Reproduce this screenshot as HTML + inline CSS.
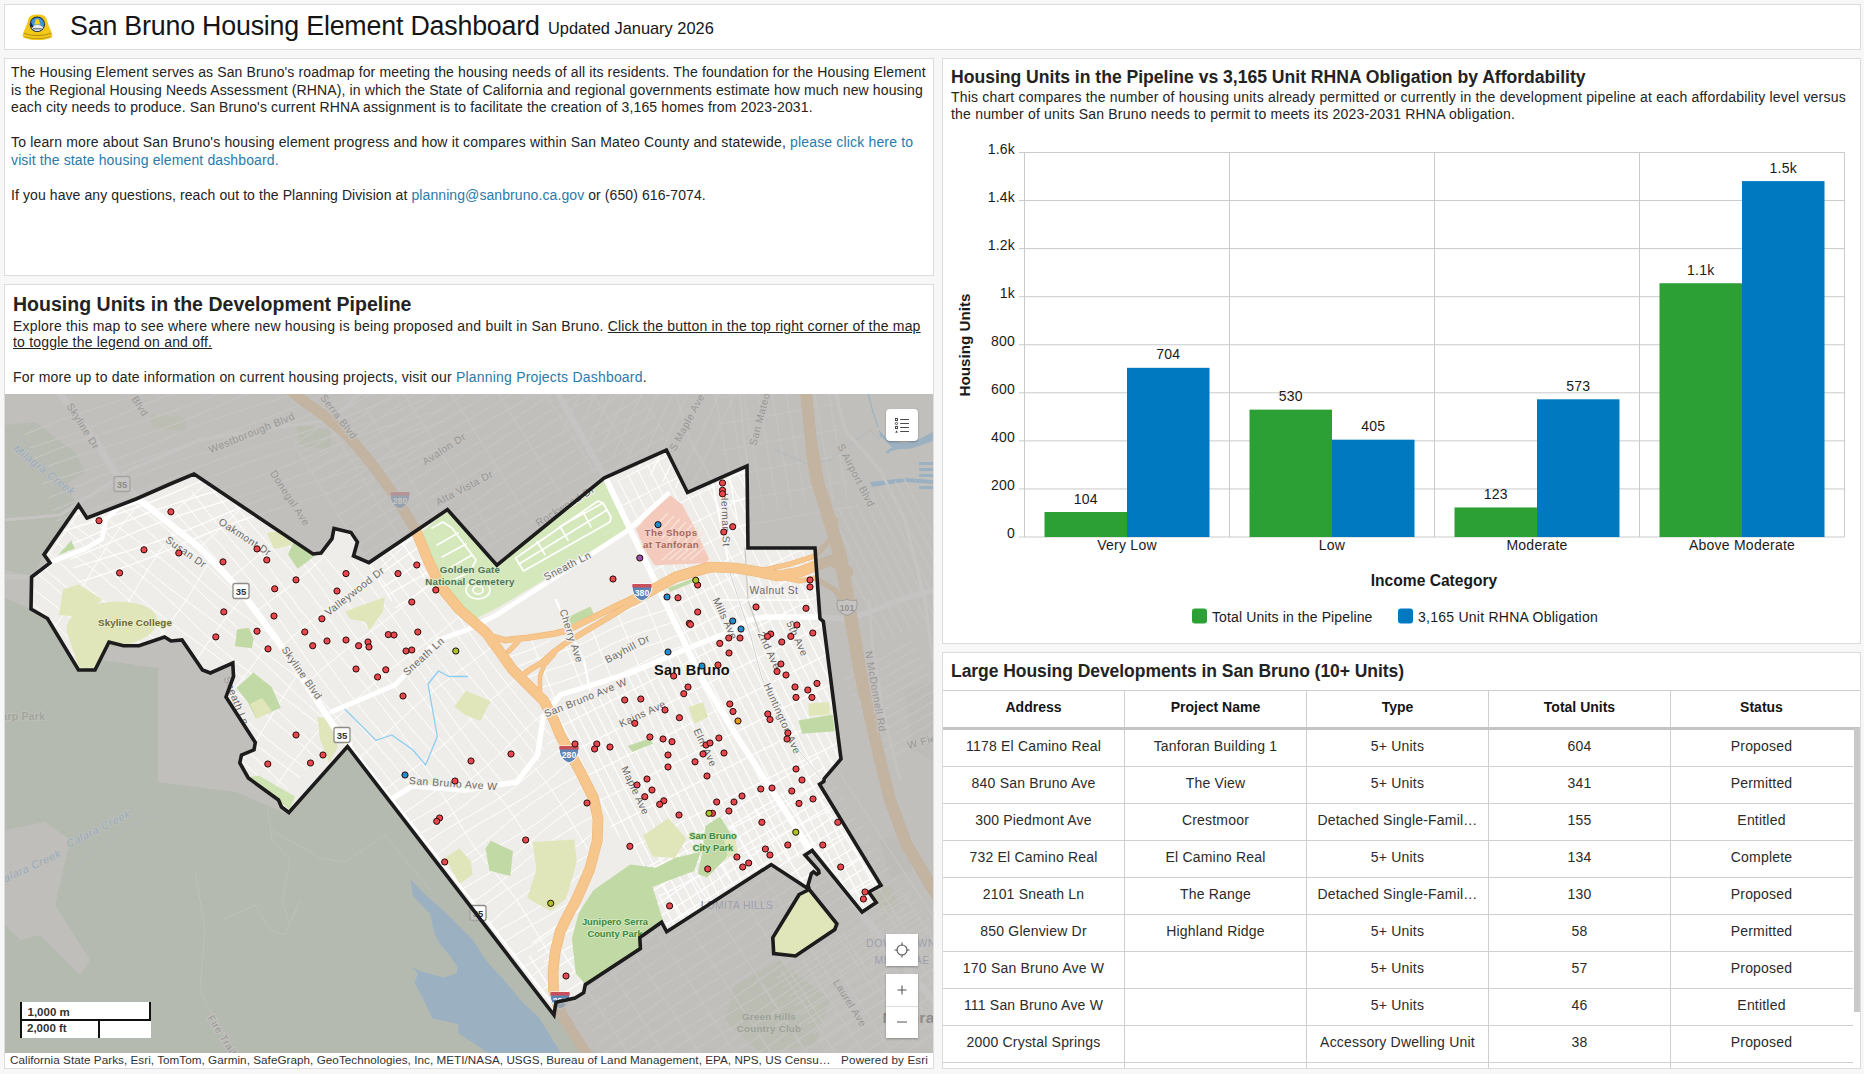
<!DOCTYPE html>
<html lang="en"><head><meta charset="utf-8"><title>San Bruno Housing Element Dashboard</title>
<style>
*{box-sizing:border-box}
html,body{margin:0;padding:0}
body{width:1864px;height:1074px;overflow:hidden;background:#f7f7f7;font-family:"Liberation Sans",sans-serif;color:#232323;position:relative}
.panel{position:absolute;background:#fff;border:1px solid #dcdcdc;overflow:hidden}
a{color:#2a7aab;text-decoration:none}
.t{position:absolute;white-space:nowrap;font-size:14px;line-height:17.5px}
#hdr{left:4px;top:4px;width:1857px;height:46px}
#hdr .title{position:absolute;left:65px;top:4px;font-size:26.8px;line-height:34px;letter-spacing:-.2px;white-space:nowrap;color:#151515}
#hdr .sub{font-size:16.4px;letter-spacing:0;margin-left:1px;position:relative;top:-.6px}
#txt{left:4px;top:58px;width:930px;height:218px}
#txt .t{left:6px;letter-spacing:.13px}
#mapp{left:4px;top:284px;width:930px;height:785px}
#mapp h2,#chp h2,#tbp h2{position:absolute;margin:0;font-weight:700;white-space:nowrap}
#mapp .t{left:8px;letter-spacing:.2px}
#chp{left:942px;top:58px;width:919px;height:586px}
#chp .t{left:8px;letter-spacing:.2px}
#tbp{left:942px;top:652px;width:919px;height:417px}
#map{position:absolute;left:0;top:109px;width:928px;height:659px;background:#bab9b7;overflow:hidden}
#attr{position:absolute;left:0;top:768px;width:928px;height:15px;background:#fff;font-size:11.7px;line-height:13.5px;color:#323232;white-space:nowrap}
#tb{position:absolute;left:0px;top:37px;width:917px;border-top:1px solid #cfcfcf}
.tr{display:flex;height:37px;width:910px;border-bottom:1px solid #cfcfcf}
.tr>div{width:182px;flex:none;border-right:1px solid #cfcfcf;text-align:center;font-size:14px;line-height:17px;padding-top:7.5px;letter-spacing:.2px;white-space:nowrap;color:#2b2b2b}
.tr>div:last-child{border-right:none;width:181px}
.tr.th{width:917px;height:39px;border-bottom:3px solid #c4c4c4}
.tr.th>div{font-weight:700;padding-top:8px;letter-spacing:0;color:#151515}
#sb{position:absolute;left:910.5px;top:74.5px;width:8px;height:284px;background:#c9c9c9}
.mbtn{position:absolute;width:32px;height:32px;background:#fff;box-shadow:0 1px 2px rgba(0,0,0,.3)}
.mbtn svg{display:block}
#scale{position:absolute;left:15px;top:608px;width:131px;height:36px;background:#fff;font-weight:700;font-size:11.5px;color:#323232;border-left:2px solid #111}
#scale .s1{position:absolute;left:0;top:0;width:129px;height:19px;border-right:2px solid #111;border-bottom:2px solid #111;padding:4px 0 0 5.5px;line-height:13px}
#scale .s2{position:absolute;left:0;top:19px;width:78px;height:17px;border-right:2px solid #111;padding:1px 0 0 5px;line-height:13px}
</style></head><body>
<div class="panel" id="hdr">
<svg style="position:absolute;left:17px;top:9px" width="31" height="27" viewBox="0 0 31 27">
<path d="M15.5 .6c-4.600 0-8.200 1.400-9.200 4.600-.9 3.100-2.100 7.200-4.100 11.200-1.100 2.100-1.700 4.600-1.300 6.800 2.900 1.600 8.400 2.900 14.600 2.900s11.700-1.300 14.600-2.900c.4-2.200-.2-4.700-1.300-6.800-2-4-3.200-8.100-4.100-11.200-1-3.200-4.600-4.600-9.200-4.600z" fill="#f2c81a"/>
<path d="M2 19.300c3.500 1.500 8.200 2.400 13.500 2.400s10-.9 13.500-2.400" fill="none" stroke="#b8940e" stroke-width="1.200"/>
<path d="M2.600 22.600c3.400 1.300 7.900 2 12.900 2s9.500-.7 12.900-2" fill="none" stroke="#b8940e" stroke-width=".9"/>
<circle cx="15.300" cy="10.300" r="7.700" fill="#1d2a44"/>
<circle cx="15.300" cy="10.300" r="6.700" fill="#3f93d6"/>
<path d="M9.300 13.200a6.700 6.700 0 0 0 12 0c-2-1.600-4-2.200-6-2.200s-4 .6-6 2.200z" fill="#e9ecee"/>
<path d="M11 14.200h8.600v1.200h-8.600z" fill="#5b6470"/>
<path d="M15.300 5c-1.500 0-2.100 1.300-2.200 3.100l-.9 2.300h6.200l-.9-2.300c-.1-1.800-.7-3.100-2.200-3.100z" fill="#f6d21f"/>
<path d="M9.200 8.200l2.400 5-2.300.2c-.8-1.500-.9-3.500-.1-5.200z" fill="#17233d"/>
</svg>
<div class="title">San Bruno Housing Element Dashboard <span class="sub">Updated January 2026</span></div>
</div>

<div class="panel" id="txt">
<div class="t" style="top:5px">The Housing Element serves as San Bruno's roadmap for meeting the housing needs of all its residents. The foundation for the Housing Element</div>
<div class="t" style="top:22.500px">is the Regional Housing Needs Assessment (RHNA), in which the State of California and regional governments estimate how much new housing</div>
<div class="t" style="top:40px">each city needs to produce. San Bruno's current RHNA assignment is to facilitate the creation of 3,165 homes from 2023-2031.</div>
<div class="t" style="top:75px;letter-spacing:.165px">To learn more about San Bruno's housing element progress and how it compares within San Mateo County and statewide, <a>please click here to</a></div>
<div class="t" style="top:92.500px"><a>visit the state housing element dashboard.</a></div>
<div class="t" style="top:127.500px;letter-spacing:.09px">If you have any questions, reach out to the Planning Division at <a>planning@sanbruno.ca.gov</a> or (650) 616-7074.</div>
</div>

<div class="panel" id="mapp">
<h2 style="left:8px;top:7px;font-size:19.5px;line-height:24px;letter-spacing:.02px">Housing Units in the Development Pipeline</h2>
<div class="t" style="top:32.500px">Explore this map to see where where new housing is being proposed and built in San Bruno. <u>Click the button in the top right corner of the map</u></div>
<div class="t" style="top:48.500px"><u>to toggle the legend on and off.</u></div>
<div class="t" style="top:83.500px">For more up to date information on current housing projects, visit our <a>Planning Projects Dashboard</a>.</div>
<div id="map"><svg width="928" height="659" viewBox="5 394 928 659" style="position:absolute;left:0;top:0" font-family="Liberation Sans, sans-serif">
<defs><clipPath id="g1"><polygon points="668.0,590.0 700.0,572.0 815.0,568.0 841.0,759.0 820.0,784.0 881.0,884.0 862.0,912.0 805.0,855.0 771.0,865.0 700.0,910.0 667.0,930.0 655.0,880.0 630.0,850.0 605.0,820.0 598.0,790.0 580.0,765.0 562.0,735.0 548.0,712.0 686.0,649.0"/></clipPath><clipPath id="g2"><polygon points="610.0,486.0 666.0,452.0 687.0,494.0 747.0,468.0 748.0,548.0 815.0,548.0 815.0,566.0 700.0,566.0 660.0,590.0 655.0,590.0"/></clipPath><clipPath id="g3"><polygon points="500.0,642.0 560.0,640.0 640.0,603.0 665.0,598.0 686.0,649.0 630.0,673.0 560.0,695.0 545.0,712.0 520.0,675.0"/></clipPath><clipPath id="g4"><polygon points="194.0,474.0 313.0,554.0 369.0,563.0 420.0,534.0 446.0,592.0 486.0,633.0 512.0,669.0 544.0,700.0 556.0,725.0 540.0,760.0 520.0,782.0 465.0,790.0 412.0,786.0 392.0,799.0 347.0,746.0 310.0,690.0 277.0,640.0 240.0,590.0 200.0,548.0 165.0,520.0 140.0,500.0"/></clipPath><clipPath id="g5"><polygon points="31.0,577.0 50.0,563.0 44.0,555.0 78.0,505.0 87.0,518.0 136.0,499.0 165.0,520.0 200.0,548.0 240.0,590.0 277.0,640.0 310.0,690.0 335.0,728.0 347.0,746.0 289.0,812.0 248.0,778.0 240.0,763.0 255.0,742.0 226.0,697.0 233.0,663.0 202.0,670.0 182.0,640.0 139.0,646.0 109.0,642.0 95.0,670.0 78.0,670.0 47.0,618.0 31.0,609.0"/></clipPath><clipPath id="g6"><polygon points="392.0,799.0 412.0,786.0 465.0,790.0 520.0,782.0 540.0,760.0 556.0,725.0 577.0,765.0 598.0,804.0 601.0,836.0 595.0,870.0 576.0,909.0 552.0,954.0 549.0,990.0 554.0,1012.0 483.0,916.0"/></clipPath></defs>
<rect x="5" y="394" width="928" height="659" fill="#efede9"/>
<polygon points="5.0,598.0 31.0,609.0 47.0,620.0 78.0,672.0 100.0,660.0 158.0,668.0 158.0,782.0 236.0,792.0 290.0,815.0 348.0,747.0 554.0,1015.0 595.0,1053.0 5.0,1053.0" fill="#c3dbbd" />
<polygon points="5.0,425.0 35.0,422.0 76.0,453.0 85.0,472.0 66.0,485.0 77.5,505.0 44.0,554.6 32.0,577.0 5.0,570.0" fill="#cbdfc6" />
<polygon points="150.0,414.0 187.0,418.0 185.0,431.0 152.0,428.0" fill="#e3e8c8" />
<polygon points="296.0,424.0 330.0,430.0 332.0,450.0 300.0,446.0" fill="#d7e6c4" />
<polygon points="410.7,879.6 417.0,886.0 428.0,897.0 443.0,910.0 454.5,921.5 473.0,940.0 486.0,960.6 506.7,983.0 521.6,1001.6 538.3,1016.5 547.7,1031.4 561.0,1053.0 488.0,1053.0 473.0,1042.6 458.2,1033.3 458.2,1024.0 432.2,1018.4 422.8,997.9 414.5,983.0 418.0,973.0 409.8,966.2 420.0,971.0 443.3,977.4 456.4,973.6 457.3,967.0 450.8,956.9 439.6,943.8 434.0,932.7 430.3,914.0 422.8,906.6 412.6,895.4" fill="#6abbfd" />
<polygon points="877.9,426.8 879.3,430.8 884.6,436.3 892.0,441.0 905.0,443.0 918.0,439.7 932.6,431.9 933.0,441.0 912.0,448.6 898.0,449.2 891.3,450.9 888.0,453.7 885.0,452.0 891.8,447.5 886.8,441.4 880.0,436.3 879.6,433.0" fill="#6abbfd" />
<polyline points="868.4,394.0 873.0,412.0 877.9,427.0" fill="none" stroke="#6abbfd" stroke-width="1.2" stroke-linejoin="round" stroke-linecap="round" />
<rect x="919" y="462" width="14" height="3" fill="#6abbfd"/>
<rect x="919" y="468" width="14" height="3" fill="#6abbfd"/>
<rect x="919" y="474" width="14" height="3" fill="#6abbfd"/>
<rect x="919" y="480" width="14" height="3" fill="#6abbfd"/>
<rect x="919" y="486" width="14" height="3" fill="#6abbfd"/>
<polygon points="870.0,482.0 905.0,478.0 933.0,480.0 933.0,484.0 905.0,482.0 872.0,487.0" fill="#6abbfd" />
<polygon points="735.0,985.0 780.0,960.0 830.0,1000.0 815.0,1045.0 760.0,1053.0 725.0,1020.0" fill="#dbe6c8" />
<polygon points="905.0,690.0 933.0,680.0 933.0,760.0 912.0,750.0" fill="#e2e0dc" />
<polygon points="880.0,840.0 905.0,835.0 912.0,870.0 890.0,878.0" fill="#e2e0dc" />
<polygon points="872.0,895.0 890.0,885.0 900.0,905.0 885.0,915.0" fill="#e0e4c4" />
<polyline points="25.1,434.4 43.6,426.8 62.3,419.6 81.1,412.9 100.2,406.7 119.3,400.8 138.5,395.0 157.5,388.9 176.4,382.3 195.1,375.1 213.6,367.5 232.0,359.6 250.5,351.8 269.1,344.4 287.8,337.5 306.8,331.1 325.9,325.2 345.1,319.4 364.2,313.4 383.1,307.0 401.9,300.1" fill="none" stroke="#ffffff" stroke-width="1.2" stroke-linejoin="round" stroke-linecap="round" />
<polyline points="30.0,447.8 49.1,441.8 68.1,435.5 86.9,428.6 105.4,421.2 123.9,413.4 142.3,405.5 160.8,397.9 179.5,390.7 198.4,384.1 217.4,378.0 236.6,372.1 255.7,366.3 274.8,360.1 293.6,353.4 312.3,346.2 330.8,338.6 349.2,330.7 367.7,322.9 386.3,315.6 405.0,308.7" fill="none" stroke="#ffffff" stroke-width="1.2" stroke-linejoin="round" stroke-linecap="round" />
<polyline points="33.9,458.6 52.5,451.0 71.2,444.0 90.1,437.5 109.2,431.5 128.3,425.6 147.5,419.7 166.5,413.4 185.3,406.6 203.9,399.3 222.4,391.6 240.8,383.7 259.3,376.0 277.9,368.8 296.8,362.0 315.8,355.8 334.9,349.9 354.1,344.1 373.1,338.0 392.0,331.5 410.7,324.3" fill="none" stroke="#ffffff" stroke-width="1.2" stroke-linejoin="round" stroke-linecap="round" />
<polyline points="38.1,470.1 56.8,463.0 75.8,456.5 94.8,450.5 114.0,444.7 133.1,438.8 152.1,432.5 170.9,425.7 189.6,418.4 208.0,410.6 226.5,402.8 244.9,395.1 263.6,387.8 282.4,381.1 301.4,374.9 320.6,369.0 339.7,363.2 358.8,357.1 377.7,350.5 396.4,343.4 414.9,335.8" fill="none" stroke="#ffffff" stroke-width="1.2" stroke-linejoin="round" stroke-linecap="round" />
<polyline points="43.0,483.4 62.1,477.6 81.2,471.6 100.2,465.3 119.0,458.4 137.6,451.0 156.0,443.2 174.5,435.3 193.0,427.7 211.6,420.5 230.5,413.9 249.6,407.8 268.7,401.9 287.9,396.1 306.9,389.9 325.8,383.2 344.4,376.0 362.9,368.4 381.3,360.5 399.8,352.8 418.4,345.4" fill="none" stroke="#ffffff" stroke-width="1.2" stroke-linejoin="round" stroke-linecap="round" />
<polyline points="48.3,498.0 66.9,490.6 85.3,482.8 103.7,475.0 122.2,467.3 140.9,460.1 159.8,453.5 178.8,447.3 198.0,441.5 217.1,435.6 236.2,429.5 255.0,422.8 273.7,415.6 292.2,408.0 310.6,400.1 329.1,392.4 347.7,385.0 366.4,378.1 385.4,371.7 404.5,365.8 423.7,360.0" fill="none" stroke="#ffffff" stroke-width="1.2" stroke-linejoin="round" stroke-linecap="round" />
<polyline points="52.7,510.3 71.4,503.0 89.9,495.3 108.3,487.5 126.8,479.7 145.4,472.4 164.2,465.6 183.2,459.3 202.3,453.4 221.5,447.5 240.5,441.5 259.5,435.0 278.2,428.0 296.7,420.5 315.2,412.7 333.6,404.8 352.2,397.3 370.9,390.2 389.8,383.7 408.9,377.7 428.0,371.9" fill="none" stroke="#ffffff" stroke-width="1.2" stroke-linejoin="round" stroke-linecap="round" />
<polyline points="56.5,520.5 75.6,514.7 94.7,508.6 113.6,502.0 132.3,494.8 150.8,487.2 169.2,479.4 187.6,471.6 206.2,464.1 225.0,457.2 243.9,450.8 263.0,444.9 282.2,439.0 301.3,433.1 320.3,426.7 339.1,419.8 357.6,412.3 376.1,404.6 394.5,396.7 413.0,389.1 431.7,381.9" fill="none" stroke="#ffffff" stroke-width="1.2" stroke-linejoin="round" stroke-linecap="round" />
<polyline points="60.6,531.8 79.7,525.9 98.9,520.1 117.9,514.0 136.8,507.4 155.5,500.2 174.0,492.6 192.4,484.7 210.9,477.0 229.5,469.5 248.2,462.6 267.2,456.2 286.3,450.2 305.5,444.4 324.6,438.4 343.5,432.1 362.3,425.2 380.9,417.7 399.3,409.9 417.8,402.1 436.3,394.5" fill="none" stroke="#ffffff" stroke-width="1.2" stroke-linejoin="round" stroke-linecap="round" />
<polyline points="65.9,546.5 84.4,538.8 102.8,530.9 121.3,523.2 139.9,515.9 158.7,509.1 177.7,502.8 196.9,496.9 216.0,491.1 235.1,485.0 254.0,478.5 272.7,471.5 291.3,463.9 309.7,456.1 328.2,448.3 346.7,440.8 365.4,433.7 384.3,427.3 403.4,421.2 422.6,415.4 441.7,409.5" fill="none" stroke="#ffffff" stroke-width="1.2" stroke-linejoin="round" stroke-linecap="round" />
<polyline points="70.5,559.0 89.1,551.6 107.5,543.8 125.9,536.0 144.5,528.3 163.1,521.2 182.0,514.6 201.1,508.5 220.2,502.6 239.4,496.7 258.4,490.6 277.3,483.9 295.9,476.7 314.4,469.0 332.8,461.1 351.3,453.4 369.9,446.0 388.7,439.2 407.7,432.9 426.8,426.9 446.0,421.1" fill="none" stroke="#ffffff" stroke-width="1.2" stroke-linejoin="round" stroke-linecap="round" />
<polyline points="73.7,567.8 92.8,561.7 111.9,555.9 131.1,550.0 150.1,543.8 168.9,537.1 187.6,529.9 206.1,522.3 224.5,514.4 243.0,506.6 261.6,499.3 280.4,492.4 299.4,486.1 318.5,480.2 337.6,474.4 356.7,468.4 375.7,461.9 394.4,454.9 413.0,447.4 431.4,439.6 449.8,431.8" fill="none" stroke="#ffffff" stroke-width="1.2" stroke-linejoin="round" stroke-linecap="round" />
<polyline points="78.8,582.0 98.0,576.1 117.0,569.8 135.8,563.0 154.4,555.7 172.9,548.0 191.3,540.1 209.8,532.4 228.4,525.1 247.2,518.4 266.3,512.2 285.4,506.3 304.6,500.4 323.6,494.4 342.5,487.8 361.2,480.7 379.8,473.1 398.2,465.3 416.6,457.5 435.2,450.0 453.9,443.0" fill="none" stroke="#ffffff" stroke-width="1.2" stroke-linejoin="round" stroke-linecap="round" />
<polyline points="294.2,444.6 307.5,435.6 320.6,426.5 333.8,417.4 347.0,408.4 360.5,399.7 374.2,391.4 388.1,383.4 402.1,375.6 416.0,367.8 429.9,359.8 443.5,351.4 456.9,342.6 470.1,333.5 483.2,324.4 496.4,315.3 509.8,306.5 523.4,298.0 537.2,289.9 551.1,282.1 565.1,274.3" fill="none" stroke="#ffffff" stroke-width="1.2" stroke-linejoin="round" stroke-linecap="round" />
<polyline points="300.0,453.8 313.9,445.9 327.7,437.8 341.3,429.3 354.6,420.5 367.8,411.4 380.9,402.2 394.2,393.2 407.6,384.5 421.2,376.1 435.0,368.1 449.0,360.2 463.0,352.4 476.9,344.4 490.6,336.1 504.0,327.4 517.2,318.4 530.4,309.3 543.5,300.1 556.9,291.3 570.4,282.7" fill="none" stroke="#ffffff" stroke-width="1.2" stroke-linejoin="round" stroke-linecap="round" />
<polyline points="306.0,463.5 320.0,455.7 333.9,447.8 347.7,439.6 361.2,431.0 374.4,422.1 387.6,412.9 400.8,403.8 414.0,394.8 427.5,386.1 441.2,377.9 455.1,369.9 469.1,362.1 483.0,354.3 496.9,346.2 510.5,337.8 523.8,329.0 537.0,319.9 550.2,310.8 563.4,301.7 576.8,292.9" fill="none" stroke="#ffffff" stroke-width="1.2" stroke-linejoin="round" stroke-linecap="round" />
<polyline points="311.8,472.7 325.3,464.2 339.1,456.1 353.0,448.2 367.0,440.4 381.0,432.5 394.7,424.3 408.2,415.7 421.5,406.8 434.7,397.7 447.8,388.5 461.1,379.5 474.5,370.9 488.2,362.6 502.1,354.6 516.1,346.8 530.1,339.0 543.9,330.9 557.5,322.5 570.9,313.8 584.1,304.7" fill="none" stroke="#ffffff" stroke-width="1.2" stroke-linejoin="round" stroke-linecap="round" />
<polyline points="318.7,483.9 331.9,474.8 345.3,465.9 358.8,457.4 372.6,449.3 386.5,441.4 400.5,433.6 414.5,425.7 428.2,417.5 441.7,408.9 455.0,400.0 468.2,390.9 481.3,381.7 494.6,372.8 508.0,364.1 521.7,355.8 535.6,347.9 549.6,340.1 563.6,332.2 577.4,324.2 591.0,315.8" fill="none" stroke="#ffffff" stroke-width="1.2" stroke-linejoin="round" stroke-linecap="round" />
<polyline points="326.0,495.5 339.5,487.0 352.8,478.1 366.0,468.9 379.2,459.8 392.4,450.8 405.9,442.1 419.5,433.8 433.4,425.8 447.4,418.0 461.4,410.2 475.2,402.2 488.8,393.8 502.2,385.0 515.4,376.0 528.6,366.8 541.8,357.7 555.1,348.9 568.7,340.4 582.5,332.3 596.5,324.5" fill="none" stroke="#ffffff" stroke-width="1.2" stroke-linejoin="round" stroke-linecap="round" />
<polyline points="332.3,505.5 346.0,497.2 359.4,488.6 372.7,479.6 385.8,470.4 399.0,461.3 412.3,452.4 425.8,443.8 439.5,435.6 453.5,427.7 467.5,419.9 481.4,412.1 495.2,403.9 508.7,395.4 522.1,386.6 535.3,377.5 548.4,368.3 561.6,359.3 575.0,350.5 588.7,342.2 602.6,334.2" fill="none" stroke="#ffffff" stroke-width="1.2" stroke-linejoin="round" stroke-linecap="round" />
<polyline points="338.2,515.0 352.1,507.1 365.9,498.9 379.4,490.4 392.7,481.5 405.9,472.4 419.0,463.2 432.3,454.2 445.7,445.5 459.4,437.2 473.3,429.2 487.2,421.4 501.2,413.6 515.1,405.5 528.7,397.2 542.1,388.4 555.3,379.4 568.5,370.2 581.6,361.1 595.0,352.3 608.6,343.8" fill="none" stroke="#ffffff" stroke-width="1.2" stroke-linejoin="round" stroke-linecap="round" />
<polyline points="344.9,525.8 358.2,516.8 371.3,507.6 384.5,498.5 397.8,489.7 411.4,481.2 425.2,473.0 439.1,465.2 453.1,457.4 467.0,449.5 480.8,441.3 494.3,432.7 507.6,423.8 520.8,414.6 533.9,405.5 547.2,396.5 560.6,387.9 574.3,379.6 588.2,371.6 602.2,363.8 616.2,356.0" fill="none" stroke="#ffffff" stroke-width="1.2" stroke-linejoin="round" stroke-linecap="round" />
<polyline points="349.9,533.7 363.7,525.6 377.7,517.8 391.7,510.0 405.6,502.1 419.3,493.8 432.8,485.2 446.1,476.3 459.2,467.2 472.4,458.0 485.7,449.1 499.1,440.4 512.8,432.2 526.8,424.2 540.7,416.4 554.7,408.6 568.5,400.5 582.1,392.1 595.5,383.3 608.7,374.2 621.8,365.0" fill="none" stroke="#ffffff" stroke-width="1.2" stroke-linejoin="round" stroke-linecap="round" />
<polyline points="357.6,546.1 370.8,537.0 383.9,527.8 397.1,518.8 410.5,510.0 424.1,501.6 438.0,493.5 451.9,485.7 465.9,477.9 479.8,469.9 493.5,461.6 507.0,453.0 520.2,444.0 533.4,434.9 546.5,425.7 559.8,416.8 573.3,408.2 587.1,400.0 601.0,392.1 615.0,384.3 629.0,376.4" fill="none" stroke="#ffffff" stroke-width="1.2" stroke-linejoin="round" stroke-linecap="round" />
<polyline points="363.0,554.6 377.0,546.8 390.9,539.0 404.8,531.0 418.5,522.7 431.9,514.0 445.1,504.9 458.3,495.8 471.4,486.7 484.8,477.8 498.3,469.3 512.1,461.1 526.0,453.3 540.0,445.5 554.0,437.6 567.7,429.4 581.2,420.8 594.5,411.9 607.7,402.8 620.8,393.6 634.1,384.7" fill="none" stroke="#ffffff" stroke-width="1.2" stroke-linejoin="round" stroke-linecap="round" />
<polyline points="369.0,564.3 382.5,555.8 396.3,547.6 410.2,539.7 424.2,531.9 438.2,524.0 451.9,515.9 465.5,507.3 478.8,498.4 492.0,489.3 505.1,480.2 518.3,471.2 531.8,462.5 545.5,454.2 559.3,446.2 573.3,438.4 587.3,430.5 601.1,422.5 614.8,414.1 628.2,405.4 641.4,396.4" fill="none" stroke="#ffffff" stroke-width="1.2" stroke-linejoin="round" stroke-linecap="round" />
<polyline points="376.6,576.4 389.7,567.3 402.9,558.1 416.1,549.1 429.6,540.5 443.3,532.2 457.2,524.3 471.2,516.5 485.1,508.6 499.0,500.6 512.6,492.1 526.0,483.3 539.2,474.3 552.3,465.1 565.5,456.0 578.9,447.2 592.5,438.8 606.3,430.7 620.2,422.9 634.2,415.1 648.1,407.2" fill="none" stroke="#ffffff" stroke-width="1.2" stroke-linejoin="round" stroke-linecap="round" />
<polyline points="383.2,587.1 396.6,578.2 409.8,569.1 422.9,560.0 436.1,550.9 449.5,542.2 463.2,533.8 477.0,525.8 491.0,518.0 505.0,510.2 518.8,502.2 532.5,493.9 546.0,485.2 559.2,476.2 572.3,467.0 585.5,457.9 598.8,449.0 612.4,440.5 626.1,432.3 640.1,424.4 654.1,416.6" fill="none" stroke="#ffffff" stroke-width="1.2" stroke-linejoin="round" stroke-linecap="round" />
<polyline points="388.1,594.8 401.9,586.8 415.9,579.0 429.9,571.2 443.8,563.2 457.5,554.9 470.9,546.2 484.2,537.2 497.3,528.1 510.5,519.0 523.8,510.1 537.3,501.5 551.0,493.3 565.0,485.4 579.0,477.6 592.9,469.7 606.7,461.6 620.2,453.1 633.6,444.2 646.8,435.1 659.9,426.0" fill="none" stroke="#ffffff" stroke-width="1.2" stroke-linejoin="round" stroke-linecap="round" />
<polyline points="395.9,607.4 409.5,599.0 422.9,590.2 436.1,581.1 449.3,572.0 462.5,562.9 475.8,554.1 489.4,545.6 503.2,537.6 517.2,529.7 531.2,521.9 545.1,514.0 558.8,505.7 572.3,497.1 585.5,488.1 598.7,479.0 611.9,469.9 625.1,460.9 638.6,452.3 652.4,444.1 666.3,436.2" fill="none" stroke="#ffffff" stroke-width="1.2" stroke-linejoin="round" stroke-linecap="round" />
<line x1="568.0" y1="278.9" x2="663.4" y2="431.5" stroke="#ffffff" stroke-width="1.2"/>
<line x1="534.1" y1="300.1" x2="629.5" y2="452.7" stroke="#ffffff" stroke-width="1.2"/>
<line x1="500.2" y1="321.3" x2="595.5" y2="473.9" stroke="#ffffff" stroke-width="1.2"/>
<line x1="466.2" y1="342.5" x2="561.6" y2="495.1" stroke="#ffffff" stroke-width="1.2"/>
<line x1="432.3" y1="363.7" x2="527.7" y2="516.3" stroke="#ffffff" stroke-width="1.2"/>
<line x1="398.4" y1="384.9" x2="493.8" y2="537.5" stroke="#ffffff" stroke-width="1.2"/>
<line x1="364.5" y1="406.1" x2="459.8" y2="558.7" stroke="#ffffff" stroke-width="1.2"/>
<line x1="330.5" y1="427.3" x2="425.9" y2="579.9" stroke="#ffffff" stroke-width="1.2"/>
<line x1="296.6" y1="448.5" x2="392.0" y2="601.1" stroke="#ffffff" stroke-width="1.2"/>
<line x1="561.2" y1="434.8" x2="611.9" y2="326.0" stroke="#ffffff" stroke-width="1.2"/>
<line x1="573.9" y1="440.7" x2="624.6" y2="332.0" stroke="#ffffff" stroke-width="1.2"/>
<line x1="586.6" y1="446.6" x2="637.3" y2="337.9" stroke="#ffffff" stroke-width="1.2"/>
<line x1="599.3" y1="452.5" x2="650.0" y2="343.8" stroke="#ffffff" stroke-width="1.2"/>
<line x1="612.0" y1="458.5" x2="662.7" y2="349.7" stroke="#ffffff" stroke-width="1.2"/>
<line x1="624.6" y1="464.4" x2="675.4" y2="355.6" stroke="#ffffff" stroke-width="1.2"/>
<line x1="637.3" y1="470.3" x2="688.0" y2="361.5" stroke="#ffffff" stroke-width="1.2"/>
<line x1="650.0" y1="476.2" x2="700.7" y2="367.5" stroke="#ffffff" stroke-width="1.2"/>
<line x1="662.7" y1="482.1" x2="713.4" y2="373.4" stroke="#ffffff" stroke-width="1.2"/>
<line x1="675.4" y1="488.0" x2="726.1" y2="379.3" stroke="#ffffff" stroke-width="1.2"/>
<line x1="688.1" y1="494.0" x2="738.8" y2="385.2" stroke="#ffffff" stroke-width="1.2"/>
<line x1="823.0" y1="361.3" x2="847.3" y2="499.2" stroke="#ffffff" stroke-width="1.2"/>
<line x1="809.2" y1="363.8" x2="833.5" y2="501.6" stroke="#ffffff" stroke-width="1.2"/>
<line x1="795.4" y1="366.2" x2="819.7" y2="504.1" stroke="#ffffff" stroke-width="1.2"/>
<line x1="781.6" y1="368.6" x2="805.9" y2="506.5" stroke="#ffffff" stroke-width="1.2"/>
<line x1="767.8" y1="371.1" x2="792.2" y2="508.9" stroke="#ffffff" stroke-width="1.2"/>
<line x1="754.1" y1="373.5" x2="778.4" y2="511.4" stroke="#ffffff" stroke-width="1.2"/>
<line x1="740.3" y1="375.9" x2="764.6" y2="513.8" stroke="#ffffff" stroke-width="1.2"/>
<line x1="726.5" y1="378.4" x2="750.8" y2="516.2" stroke="#ffffff" stroke-width="1.2"/>
<line x1="712.7" y1="380.8" x2="737.0" y2="518.7" stroke="#ffffff" stroke-width="1.2"/>
<line x1="707.4" y1="373.6" x2="825.5" y2="352.8" stroke="#ffffff" stroke-width="1.2"/>
<line x1="711.9" y1="399.2" x2="830.1" y2="378.4" stroke="#ffffff" stroke-width="1.2"/>
<line x1="716.4" y1="424.8" x2="834.6" y2="404.0" stroke="#ffffff" stroke-width="1.2"/>
<line x1="720.9" y1="450.4" x2="839.1" y2="429.6" stroke="#ffffff" stroke-width="1.2"/>
<line x1="725.4" y1="476.0" x2="843.6" y2="455.2" stroke="#ffffff" stroke-width="1.2"/>
<line x1="729.9" y1="501.6" x2="848.1" y2="480.8" stroke="#ffffff" stroke-width="1.2"/>
<line x1="734.5" y1="527.2" x2="852.6" y2="506.4" stroke="#ffffff" stroke-width="1.2"/>
<line x1="903.3" y1="477.2" x2="966.9" y2="601.9" stroke="#ffffff" stroke-width="1.2"/>
<line x1="895.3" y1="481.3" x2="958.9" y2="606.0" stroke="#ffffff" stroke-width="1.2"/>
<line x1="887.3" y1="485.4" x2="950.8" y2="610.1" stroke="#ffffff" stroke-width="1.2"/>
<line x1="879.3" y1="489.5" x2="942.8" y2="614.2" stroke="#ffffff" stroke-width="1.2"/>
<line x1="871.2" y1="493.5" x2="934.8" y2="618.3" stroke="#ffffff" stroke-width="1.2"/>
<line x1="863.2" y1="497.6" x2="926.8" y2="622.4" stroke="#ffffff" stroke-width="1.2"/>
<line x1="855.2" y1="501.7" x2="918.8" y2="626.5" stroke="#ffffff" stroke-width="1.2"/>
<line x1="847.2" y1="505.8" x2="910.7" y2="630.5" stroke="#ffffff" stroke-width="1.2"/>
<line x1="839.2" y1="509.9" x2="902.7" y2="634.6" stroke="#ffffff" stroke-width="1.2"/>
<line x1="831.1" y1="514.0" x2="894.7" y2="638.7" stroke="#ffffff" stroke-width="1.2"/>
<line x1="823.1" y1="518.1" x2="886.7" y2="642.8" stroke="#ffffff" stroke-width="1.2"/>
<line x1="842.9" y1="681.0" x2="912.1" y2="641.0" stroke="#ffffff" stroke-width="1.2"/>
<line x1="847.4" y1="688.8" x2="916.6" y2="648.8" stroke="#ffffff" stroke-width="1.2"/>
<line x1="851.9" y1="696.6" x2="921.1" y2="656.6" stroke="#ffffff" stroke-width="1.2"/>
<line x1="856.4" y1="704.4" x2="925.6" y2="664.4" stroke="#ffffff" stroke-width="1.2"/>
<line x1="860.9" y1="712.2" x2="930.1" y2="672.2" stroke="#ffffff" stroke-width="1.2"/>
<line x1="865.4" y1="720.0" x2="934.6" y2="680.0" stroke="#ffffff" stroke-width="1.2"/>
<line x1="869.9" y1="727.8" x2="939.1" y2="687.8" stroke="#ffffff" stroke-width="1.2"/>
<line x1="874.4" y1="735.6" x2="943.6" y2="695.6" stroke="#ffffff" stroke-width="1.2"/>
<line x1="878.9" y1="743.4" x2="948.1" y2="703.4" stroke="#ffffff" stroke-width="1.2"/>
<line x1="883.4" y1="751.2" x2="952.6" y2="711.2" stroke="#ffffff" stroke-width="1.2"/>
<line x1="887.9" y1="759.0" x2="957.1" y2="719.0" stroke="#ffffff" stroke-width="1.2"/>
<polyline points="532.6,942.8 546.6,933.1 560.5,923.3 574.4,913.6 588.5,904.0 602.7,894.7 617.1,885.7 631.7,876.9 646.3,868.1 660.9,859.4 675.3,850.3 689.5,841.0 703.6,831.5 717.5,821.7 731.4,811.9 745.4,802.2 759.5,792.8 773.9,783.7 788.4,774.8 803.0,766.1 817.6,757.3" fill="none" stroke="#ffffff" stroke-width="1.2" stroke-linejoin="round" stroke-linecap="round" />
<polyline points="538.1,951.2 552.2,941.7 566.6,932.6 581.1,923.8 595.7,915.0 610.3,906.3 624.7,897.4 639.1,888.2 653.2,878.7 667.1,869.0 681.0,859.2 695.0,849.5 709.1,839.9 723.3,830.7 737.8,821.7 752.4,813.0 767.0,804.2 781.5,795.4 795.9,786.4 810.1,777.0 824.1,767.4" fill="none" stroke="#ffffff" stroke-width="1.2" stroke-linejoin="round" stroke-linecap="round" />
<polyline points="544.9,961.7 559.5,953.0 574.1,944.2 588.5,935.3 602.8,926.0 616.9,916.5 630.8,906.7 644.7,896.9 658.7,887.2 672.8,877.8 687.1,868.6 701.6,859.6 716.2,850.9 730.8,842.2 745.3,833.3 759.7,824.2 773.8,814.8 787.8,805.1 801.7,795.3 815.6,785.6 829.7,776.0" fill="none" stroke="#ffffff" stroke-width="1.2" stroke-linejoin="round" stroke-linecap="round" />
<polyline points="551.0,971.2 565.3,961.9 579.8,953.0 594.3,944.2 609.0,935.5 623.5,926.7 637.9,917.6 652.1,908.2 666.1,898.6 680.0,888.8 693.9,879.0 707.9,869.4 722.1,860.0 736.5,851.0 751.0,842.1 765.6,833.4 780.2,824.6 794.7,815.7 808.9,806.5 823.0,796.9 837.0,787.2" fill="none" stroke="#ffffff" stroke-width="1.2" stroke-linejoin="round" stroke-linecap="round" />
<polyline points="558.6,982.8 572.6,973.1 586.5,963.3 600.4,953.6 614.6,944.2 628.9,935.0 643.4,926.2 658.0,917.4 672.6,908.7 687.1,899.8 701.4,890.6 715.6,881.2 729.5,871.5 743.4,861.6 757.4,851.9 771.4,842.4 785.7,833.1 800.1,824.1 814.7,815.3 829.3,806.6 843.9,797.8" fill="none" stroke="#ffffff" stroke-width="1.2" stroke-linejoin="round" stroke-linecap="round" />
<polyline points="564.8,992.3 579.3,983.5 593.8,974.6 608.2,965.5 622.3,956.0 636.3,946.4 650.2,936.6 664.1,926.8 678.2,917.2 692.4,908.0 706.9,899.0 721.4,890.2 736.0,881.5 750.6,872.7 765.0,863.6 779.2,854.3 793.2,844.7 807.2,834.9 821.1,825.1 835.1,815.5 849.2,806.1" fill="none" stroke="#ffffff" stroke-width="1.2" stroke-linejoin="round" stroke-linecap="round" />
<polyline points="571.9,1003.2 585.9,993.6 599.8,983.8 613.7,974.1 627.7,964.4 641.9,955.0 656.3,945.9 670.8,937.1 685.4,928.4 700.0,919.6 714.5,910.7 728.8,901.5 742.8,892.0 756.8,882.2 770.7,872.4 784.7,862.7 798.8,853.2 813.0,844.0 827.5,835.1 842.1,826.3 856.7,817.6" fill="none" stroke="#ffffff" stroke-width="1.2" stroke-linejoin="round" stroke-linecap="round" />
<polyline points="578.3,1013.2 592.7,1004.1 606.9,994.8 621.0,985.2 634.9,975.4 648.8,965.6 662.8,956.0 677.0,946.6 691.3,937.5 705.9,928.6 720.5,919.9 735.0,911.2 749.5,902.2 763.8,893.0 777.9,883.5 791.9,873.8 805.8,864.0 819.7,854.3 833.8,844.8 848.1,835.5 862.6,826.6" fill="none" stroke="#ffffff" stroke-width="1.2" stroke-linejoin="round" stroke-linecap="round" />
<polyline points="584.8,1023.1 598.7,1013.4 612.6,1003.6 626.6,993.9 640.7,984.4 655.0,975.3 669.5,966.4 684.1,957.6 698.7,948.9 713.2,940.0 727.6,930.9 741.7,921.4 755.7,911.8 769.6,902.0 783.6,892.2 797.6,882.6 811.8,873.3 826.3,864.3 840.8,855.5 855.4,846.8 870.0,838.0" fill="none" stroke="#ffffff" stroke-width="1.2" stroke-linejoin="round" stroke-linecap="round" />
<polyline points="590.7,1032.2 604.6,1022.5 618.8,1013.0 633.1,1003.8 647.5,994.9 662.1,986.2 676.7,977.4 691.3,968.6 705.6,959.5 719.8,950.1 733.8,940.4 747.7,930.6 761.6,920.8 775.6,911.2 789.8,901.9 804.3,892.9 818.8,884.1 833.4,875.4 848.0,866.6 862.4,857.6 876.7,848.3" fill="none" stroke="#ffffff" stroke-width="1.2" stroke-linejoin="round" stroke-linecap="round" />
<polyline points="598.0,1043.5 612.3,1034.3 626.5,1024.9 640.4,1015.2 654.3,1005.3 668.3,995.6 682.3,986.1 696.6,976.8 711.0,967.8 725.6,959.1 740.2,950.4 754.8,941.5 769.2,932.5 783.4,923.1 797.4,913.5 811.3,903.7 825.2,893.9 839.2,884.3 853.4,874.9 867.8,865.8 882.3,857.0" fill="none" stroke="#ffffff" stroke-width="1.2" stroke-linejoin="round" stroke-linecap="round" />
<polyline points="604.6,1053.6 618.7,1044.1 632.6,1034.3 646.5,1024.5 660.5,1014.8 674.6,1005.4 688.9,996.2 703.4,987.3 718.0,978.5 732.6,969.8 747.1,960.9 761.4,951.8 775.6,942.4 789.6,932.7 803.5,922.9 817.4,913.1 831.5,903.6 845.7,894.3 860.1,885.3 874.7,876.5 889.3,867.7" fill="none" stroke="#ffffff" stroke-width="1.2" stroke-linejoin="round" stroke-linecap="round" />
<polyline points="610.6,1062.9 624.5,1053.1 638.5,1043.4 652.6,1033.9 666.9,1024.8 681.4,1015.9 696.1,1007.2 710.6,998.4 725.1,989.5 739.5,980.4 753.6,970.9 767.6,961.2 781.5,951.4 795.4,941.7 809.5,932.1 823.7,922.9 838.2,913.9 852.7,905.1 867.3,896.4 881.9,887.6 896.3,878.5" fill="none" stroke="#ffffff" stroke-width="1.2" stroke-linejoin="round" stroke-linecap="round" />
<polyline points="616.5,1071.9 630.6,1062.5 645.0,1053.4 659.5,1044.6 674.1,1035.9 688.7,1027.1 703.2,1018.2 717.5,1009.0 731.6,999.4 745.5,989.7 759.4,979.9 773.4,970.2 787.5,960.7 801.8,951.5 816.2,942.5 830.8,933.8 845.4,925.1 860.0,916.2 874.3,907.1 888.5,897.7 902.5,888.1" fill="none" stroke="#ffffff" stroke-width="1.2" stroke-linejoin="round" stroke-linecap="round" />
<polyline points="624.2,1083.9 638.4,1074.4 652.4,1064.8 666.3,1055.0 680.2,1045.2 694.3,1035.6 708.5,1026.3 722.9,1017.3 737.4,1008.5 752.0,999.8 766.6,991.0 781.0,982.0 795.3,972.7 809.3,963.1 823.3,953.4 837.2,943.6 851.2,933.9 865.3,924.4 879.6,915.3 894.1,906.4 908.7,897.7" fill="none" stroke="#ffffff" stroke-width="1.2" stroke-linejoin="round" stroke-linecap="round" />
<polyline points="630.2,1093.1 644.1,1083.3 658.1,1073.6 672.2,1064.1 686.5,1055.0 701.0,1046.1 715.6,1037.3 730.2,1028.6 744.7,1019.7 759.1,1010.6 773.2,1001.1 787.2,991.5 801.1,981.7 815.0,971.9 829.1,962.3 843.3,953.0 857.7,944.0 872.3,935.2 886.9,926.5 901.5,917.7 915.9,908.7" fill="none" stroke="#ffffff" stroke-width="1.2" stroke-linejoin="round" stroke-linecap="round" />
<polyline points="636.5,1102.8 651.1,1094.1 665.7,1085.3 680.1,1076.2 694.3,1066.8 708.3,1057.2 722.2,1047.4 736.1,1037.6 750.1,1028.0 764.3,1018.6 778.7,1009.6 793.2,1000.7 807.8,992.0 822.4,983.3 836.9,974.3 851.1,965.1 865.2,955.5 879.2,945.8 893.1,936.0 907.0,926.3 921.1,916.8" fill="none" stroke="#ffffff" stroke-width="1.2" stroke-linejoin="round" stroke-linecap="round" />
<polyline points="643.4,1113.4 658.0,1104.6 672.3,1095.5 686.5,1086.2 700.6,1076.5 714.5,1066.8 728.4,1057.0 742.4,1047.3 756.6,1038.0 771.0,1028.9 785.5,1020.1 800.1,1011.3 814.7,1002.6 829.1,993.6 843.4,984.4 857.5,974.9 871.5,965.1 885.4,955.3 899.3,945.6 913.4,936.1 927.7,926.9" fill="none" stroke="#ffffff" stroke-width="1.2" stroke-linejoin="round" stroke-linecap="round" />
<polyline points="649.1,1122.1 663.4,1113.0 677.9,1104.1 692.5,1095.4 707.1,1086.7 721.6,1077.7 735.9,1068.5 750.0,1059.0 764.0,1049.3 777.9,1039.5 791.8,1029.8 805.9,1020.3 820.2,1011.0 834.6,1002.1 849.2,993.3 863.8,984.6 878.4,975.8 892.7,966.7 906.9,957.3 920.9,947.7 934.8,937.9" fill="none" stroke="#ffffff" stroke-width="1.2" stroke-linejoin="round" stroke-linecap="round" />
<polyline points="655.6,1132.2 670.0,1123.2 684.6,1114.4 699.2,1105.7 713.8,1096.9 728.2,1087.9 742.4,1078.5 756.4,1069.0 770.4,1059.2 784.3,1049.4 798.3,1039.7 812.4,1030.3 826.8,1021.2 841.3,1012.3 855.9,1003.6 870.5,994.9 885.0,985.9 899.3,976.8 913.4,967.3 927.3,957.6 941.3,947.8" fill="none" stroke="#ffffff" stroke-width="1.2" stroke-linejoin="round" stroke-linecap="round" />
<polyline points="662.2,1142.3 676.4,1133.0 690.8,1123.9 705.3,1115.1 719.9,1106.4 734.5,1097.6 749.0,1088.6 763.2,1079.4 777.3,1069.8 791.2,1060.1 805.1,1050.3 819.1,1040.6 833.2,1031.1 847.5,1022.0 862.0,1013.1 876.6,1004.3 891.2,995.6 905.7,986.7 920.1,977.6 934.2,968.1 948.2,958.5" fill="none" stroke="#ffffff" stroke-width="1.2" stroke-linejoin="round" stroke-linecap="round" />
<line x1="831.1" y1="759.7" x2="950.9" y2="944.2" stroke="#ffffff" stroke-width="1.2"/>
<line x1="805.9" y1="776.1" x2="925.7" y2="960.6" stroke="#ffffff" stroke-width="1.2"/>
<line x1="780.7" y1="792.4" x2="900.6" y2="976.9" stroke="#ffffff" stroke-width="1.2"/>
<line x1="755.6" y1="808.7" x2="875.4" y2="993.2" stroke="#ffffff" stroke-width="1.2"/>
<line x1="730.4" y1="825.1" x2="850.2" y2="1009.6" stroke="#ffffff" stroke-width="1.2"/>
<line x1="705.2" y1="841.4" x2="825.1" y2="1025.9" stroke="#ffffff" stroke-width="1.2"/>
<line x1="680.1" y1="857.7" x2="799.9" y2="1042.3" stroke="#ffffff" stroke-width="1.2"/>
<line x1="654.9" y1="874.1" x2="774.8" y2="1058.6" stroke="#ffffff" stroke-width="1.2"/>
<line x1="629.8" y1="890.4" x2="749.6" y2="1074.9" stroke="#ffffff" stroke-width="1.2"/>
<line x1="604.6" y1="906.8" x2="724.4" y2="1091.3" stroke="#ffffff" stroke-width="1.2"/>
<line x1="579.4" y1="923.1" x2="699.3" y2="1107.6" stroke="#ffffff" stroke-width="1.2"/>
<line x1="554.3" y1="939.4" x2="674.1" y2="1123.9" stroke="#ffffff" stroke-width="1.2"/>
<line x1="529.1" y1="955.8" x2="648.9" y2="1140.3" stroke="#ffffff" stroke-width="1.2"/>
<line x1="777.0" y1="978.2" x2="911.1" y2="891.1" stroke="#ffffff" stroke-width="1.2"/>
<line x1="783.0" y1="987.4" x2="917.1" y2="900.3" stroke="#ffffff" stroke-width="1.2"/>
<line x1="788.9" y1="996.7" x2="923.1" y2="909.5" stroke="#ffffff" stroke-width="1.2"/>
<line x1="794.9" y1="1005.9" x2="929.1" y2="918.8" stroke="#ffffff" stroke-width="1.2"/>
<line x1="800.9" y1="1015.1" x2="935.1" y2="928.0" stroke="#ffffff" stroke-width="1.2"/>
<line x1="806.9" y1="1024.3" x2="941.1" y2="937.2" stroke="#ffffff" stroke-width="1.2"/>
<line x1="812.9" y1="1033.6" x2="947.1" y2="946.4" stroke="#ffffff" stroke-width="1.2"/>
<line x1="818.9" y1="1042.8" x2="953.1" y2="955.7" stroke="#ffffff" stroke-width="1.2"/>
<line x1="824.9" y1="1052.0" x2="959.1" y2="964.9" stroke="#ffffff" stroke-width="1.2"/>
<line x1="830.9" y1="1061.2" x2="965.1" y2="974.1" stroke="#ffffff" stroke-width="1.2"/>
<line x1="836.9" y1="1070.5" x2="971.1" y2="983.3" stroke="#ffffff" stroke-width="1.2"/>
<line x1="842.9" y1="1079.7" x2="977.0" y2="992.6" stroke="#ffffff" stroke-width="1.2"/>
<line x1="848.9" y1="1088.9" x2="983.0" y2="1001.8" stroke="#ffffff" stroke-width="1.2"/>
<line x1="922.4" y1="879.0" x2="998.6" y2="996.4" stroke="#ffffff" stroke-width="1.2"/>
<line x1="902.3" y1="892.1" x2="978.5" y2="1009.5" stroke="#ffffff" stroke-width="1.2"/>
<line x1="882.1" y1="905.2" x2="958.4" y2="1022.6" stroke="#ffffff" stroke-width="1.2"/>
<line x1="862.0" y1="918.2" x2="938.3" y2="1035.6" stroke="#ffffff" stroke-width="1.2"/>
<line x1="841.9" y1="931.3" x2="918.1" y2="1048.7" stroke="#ffffff" stroke-width="1.2"/>
<line x1="821.7" y1="944.4" x2="898.0" y2="1061.8" stroke="#ffffff" stroke-width="1.2"/>
<line x1="801.6" y1="957.4" x2="877.9" y2="1074.8" stroke="#ffffff" stroke-width="1.2"/>
<line x1="781.5" y1="970.5" x2="857.7" y2="1087.9" stroke="#ffffff" stroke-width="1.2"/>
<line x1="761.4" y1="983.6" x2="837.6" y2="1101.0" stroke="#ffffff" stroke-width="1.2"/>
<polyline points="195.0,870.0 205.0,930.0 200.0,990.0 215.0,1020.0 235.0,1053.0" fill="none" stroke="#e6eddc" stroke-width="1" stroke-linejoin="round" stroke-linecap="round" />
<polyline points="265.0,790.0 272.0,840.0 290.0,860.0 282.0,900.0 290.0,925.0" fill="none" stroke="#e6eddc" stroke-width="1" stroke-linejoin="round" stroke-linecap="round" />
<polyline points="222.0,920.0 255.0,905.0 270.0,930.0 285.0,935.0 300.0,900.0" fill="none" stroke="#e6eddc" stroke-width="1" stroke-linejoin="round" stroke-linecap="round" />
<polyline points="272.0,830.0 320.0,858.0 345.0,862.0 385.0,835.0 430.0,890.0" fill="none" stroke="#e6eddc" stroke-width="1" stroke-linejoin="round" stroke-linecap="round" />
<polyline points="5.0,910.0 60.0,880.0 125.0,828.0 150.0,815.0" fill="none" stroke="#b9d6e8" stroke-width="1" stroke-linejoin="round" stroke-linecap="round" />
<polyline points="14.0,430.0 50.0,470.0 68.0,520.0" fill="none" stroke="#b9d6e8" stroke-width="1" stroke-linejoin="round" stroke-linecap="round" />
<polyline points="775.0,450.0 810.0,465.0 830.0,460.0 870.0,430.0 880.0,440.0" fill="none" stroke="#b9d6e8" stroke-width="1" stroke-linejoin="round" stroke-linecap="round" />
<polygon points="5.0,830.0 45.0,822.0 70.0,840.0 55.0,905.0 90.0,960.0 80.0,975.0 40.0,935.0 20.0,940.0 5.0,925.0" fill="#ebe9e4" />
<g clip-path="url(#g1)"><line x1="755.9" y1="475.4" x2="954.2" y2="868.2" stroke="#ffffff" stroke-width="1.1"/><line x1="747.9" y1="479.4" x2="946.3" y2="872.2" stroke="#ffffff" stroke-width="1.1"/><line x1="740.0" y1="483.4" x2="938.4" y2="876.2" stroke="#ffffff" stroke-width="1.1"/><line x1="732.0" y1="487.5" x2="930.4" y2="880.2" stroke="#ffffff" stroke-width="1.1"/><line x1="724.1" y1="491.5" x2="922.5" y2="884.2" stroke="#ffffff" stroke-width="1.1"/><line x1="716.1" y1="495.5" x2="914.5" y2="888.2" stroke="#ffffff" stroke-width="1.1"/><line x1="708.2" y1="499.5" x2="906.6" y2="892.2" stroke="#ffffff" stroke-width="1.1"/><line x1="700.2" y1="503.5" x2="898.6" y2="896.2" stroke="#ffffff" stroke-width="1.1"/><line x1="692.3" y1="507.5" x2="890.7" y2="900.3" stroke="#ffffff" stroke-width="1.1"/><line x1="684.4" y1="511.5" x2="882.7" y2="904.3" stroke="#ffffff" stroke-width="1.1"/><line x1="676.4" y1="515.5" x2="874.8" y2="908.3" stroke="#ffffff" stroke-width="1.1"/><line x1="668.5" y1="519.6" x2="866.9" y2="912.3" stroke="#ffffff" stroke-width="1.1"/><line x1="660.5" y1="523.6" x2="858.9" y2="916.3" stroke="#ffffff" stroke-width="1.1"/><line x1="652.6" y1="527.6" x2="851.0" y2="920.3" stroke="#ffffff" stroke-width="1.1"/><line x1="644.6" y1="531.6" x2="843.0" y2="924.3" stroke="#ffffff" stroke-width="1.1"/><line x1="636.7" y1="535.6" x2="835.1" y2="928.3" stroke="#ffffff" stroke-width="1.1"/><line x1="628.8" y1="539.6" x2="827.1" y2="932.4" stroke="#ffffff" stroke-width="1.1"/><line x1="620.8" y1="543.6" x2="819.2" y2="936.4" stroke="#ffffff" stroke-width="1.1"/><line x1="612.9" y1="547.6" x2="811.2" y2="940.4" stroke="#ffffff" stroke-width="1.1"/><line x1="604.9" y1="551.7" x2="803.3" y2="944.4" stroke="#ffffff" stroke-width="1.1"/><line x1="597.0" y1="555.7" x2="795.4" y2="948.4" stroke="#ffffff" stroke-width="1.1"/><line x1="589.0" y1="559.7" x2="787.4" y2="952.4" stroke="#ffffff" stroke-width="1.1"/><line x1="581.1" y1="563.7" x2="779.5" y2="956.4" stroke="#ffffff" stroke-width="1.1"/><line x1="573.1" y1="567.7" x2="771.5" y2="960.4" stroke="#ffffff" stroke-width="1.1"/><line x1="565.2" y1="571.7" x2="763.6" y2="964.5" stroke="#ffffff" stroke-width="1.1"/><line x1="557.3" y1="575.7" x2="755.6" y2="968.5" stroke="#ffffff" stroke-width="1.1"/><line x1="549.3" y1="579.7" x2="747.7" y2="972.5" stroke="#ffffff" stroke-width="1.1"/><line x1="541.4" y1="583.8" x2="739.8" y2="976.5" stroke="#ffffff" stroke-width="1.1"/><line x1="533.4" y1="587.8" x2="731.8" y2="980.5" stroke="#ffffff" stroke-width="1.1"/><line x1="525.5" y1="591.8" x2="723.9" y2="984.5" stroke="#ffffff" stroke-width="1.1"/><line x1="517.5" y1="595.8" x2="715.9" y2="988.5" stroke="#ffffff" stroke-width="1.1"/><line x1="509.6" y1="599.8" x2="708.0" y2="992.5" stroke="#ffffff" stroke-width="1.1"/><line x1="501.6" y1="603.8" x2="700.0" y2="996.6" stroke="#ffffff" stroke-width="1.1"/><line x1="493.7" y1="607.8" x2="692.1" y2="1000.6" stroke="#ffffff" stroke-width="1.1"/><line x1="485.8" y1="611.8" x2="684.1" y2="1004.6" stroke="#ffffff" stroke-width="1.1"/><line x1="440.5" y1="630.2" x2="797.5" y2="449.9" stroke="#ffffff" stroke-width="1.1"/><line x1="453.1" y1="655.2" x2="810.1" y2="474.9" stroke="#ffffff" stroke-width="1.1"/><line x1="465.7" y1="680.2" x2="822.8" y2="499.9" stroke="#ffffff" stroke-width="1.1"/><line x1="478.4" y1="705.2" x2="835.4" y2="524.9" stroke="#ffffff" stroke-width="1.1"/><line x1="491.0" y1="730.2" x2="848.0" y2="549.9" stroke="#ffffff" stroke-width="1.1"/><line x1="503.6" y1="755.2" x2="860.6" y2="574.8" stroke="#ffffff" stroke-width="1.1"/><line x1="516.2" y1="780.2" x2="873.3" y2="599.8" stroke="#ffffff" stroke-width="1.1"/><line x1="528.9" y1="805.2" x2="885.9" y2="624.8" stroke="#ffffff" stroke-width="1.1"/><line x1="541.5" y1="830.2" x2="898.5" y2="649.8" stroke="#ffffff" stroke-width="1.1"/><line x1="554.1" y1="855.2" x2="911.1" y2="674.8" stroke="#ffffff" stroke-width="1.1"/><line x1="566.7" y1="880.2" x2="923.8" y2="699.8" stroke="#ffffff" stroke-width="1.1"/><line x1="579.4" y1="905.2" x2="936.4" y2="724.8" stroke="#ffffff" stroke-width="1.1"/><line x1="592.0" y1="930.1" x2="949.0" y2="749.8" stroke="#ffffff" stroke-width="1.1"/><line x1="604.6" y1="955.1" x2="961.6" y2="774.8" stroke="#ffffff" stroke-width="1.1"/><line x1="617.2" y1="980.1" x2="974.3" y2="799.8" stroke="#ffffff" stroke-width="1.1"/><line x1="629.9" y1="1005.1" x2="986.9" y2="824.8" stroke="#ffffff" stroke-width="1.1"/><line x1="642.5" y1="1030.1" x2="999.5" y2="849.8" stroke="#ffffff" stroke-width="1.1"/></g>
<g clip-path="url(#g2)"><line x1="738.0" y1="400.0" x2="819.1" y2="560.7" stroke="#ffffff" stroke-width="1"/><line x1="728.2" y1="404.9" x2="809.3" y2="565.6" stroke="#ffffff" stroke-width="1"/><line x1="718.3" y1="409.9" x2="799.5" y2="570.6" stroke="#ffffff" stroke-width="1"/><line x1="708.5" y1="414.9" x2="789.7" y2="575.5" stroke="#ffffff" stroke-width="1"/><line x1="698.7" y1="419.8" x2="779.9" y2="580.5" stroke="#ffffff" stroke-width="1"/><line x1="688.9" y1="424.8" x2="770.0" y2="585.5" stroke="#ffffff" stroke-width="1"/><line x1="679.1" y1="429.7" x2="760.2" y2="590.4" stroke="#ffffff" stroke-width="1"/><line x1="669.2" y1="434.7" x2="750.4" y2="595.4" stroke="#ffffff" stroke-width="1"/><line x1="659.4" y1="439.7" x2="740.6" y2="600.3" stroke="#ffffff" stroke-width="1"/><line x1="649.6" y1="444.6" x2="730.8" y2="605.3" stroke="#ffffff" stroke-width="1"/><line x1="639.8" y1="449.6" x2="720.9" y2="610.3" stroke="#ffffff" stroke-width="1"/><line x1="630.0" y1="454.5" x2="711.1" y2="615.2" stroke="#ffffff" stroke-width="1"/><line x1="620.1" y1="459.5" x2="701.3" y2="620.2" stroke="#ffffff" stroke-width="1"/><line x1="610.3" y1="464.5" x2="691.5" y2="625.1" stroke="#ffffff" stroke-width="1"/><line x1="600.5" y1="469.4" x2="681.7" y2="630.1" stroke="#ffffff" stroke-width="1"/><line x1="590.7" y1="474.4" x2="671.8" y2="635.1" stroke="#ffffff" stroke-width="1"/><line x1="580.9" y1="479.3" x2="662.0" y2="640.0" stroke="#ffffff" stroke-width="1"/><line x1="558.5" y1="483.9" x2="754.9" y2="384.7" stroke="#ffffff" stroke-width="1"/><line x1="569.4" y1="505.3" x2="765.7" y2="406.1" stroke="#ffffff" stroke-width="1"/><line x1="580.2" y1="526.8" x2="776.5" y2="427.6" stroke="#ffffff" stroke-width="1"/><line x1="591.0" y1="548.2" x2="787.4" y2="449.0" stroke="#ffffff" stroke-width="1"/><line x1="601.8" y1="569.6" x2="798.2" y2="470.4" stroke="#ffffff" stroke-width="1"/><line x1="612.6" y1="591.0" x2="809.0" y2="491.8" stroke="#ffffff" stroke-width="1"/><line x1="623.5" y1="612.4" x2="819.8" y2="513.2" stroke="#ffffff" stroke-width="1"/><line x1="634.3" y1="633.9" x2="830.6" y2="534.7" stroke="#ffffff" stroke-width="1"/><line x1="645.1" y1="655.3" x2="841.5" y2="556.1" stroke="#ffffff" stroke-width="1"/></g>
<g clip-path="url(#g3)"><polyline points="495.4,631.3 503.5,627.3 511.7,623.7 520.1,620.4 528.6,617.5 537.3,614.9 545.9,612.2 554.5,609.4 562.9,606.2 571.1,602.6 579.3,598.7 587.3,594.5 595.4,590.5 603.5,586.7 611.9,583.2 620.3,580.2 628.9,577.5 637.6,574.9 646.2,572.1 654.7,569.1 663.0,565.7" fill="none" stroke="#ffffff" stroke-width="1" stroke-linejoin="round" stroke-linecap="round" /><polyline points="500.3,643.6 508.6,640.0 517.0,636.8 525.6,634.0 534.2,631.4 542.9,628.7 551.4,625.8 559.8,622.6 568.0,618.9 576.1,614.9 584.1,610.8 592.2,606.7 600.4,603.0 608.8,599.6 617.3,596.7 625.9,594.0 634.5,591.3 643.1,588.6 651.6,585.5 659.9,582.0 668.0,578.1" fill="none" stroke="#ffffff" stroke-width="1" stroke-linejoin="round" stroke-linecap="round" /><polyline points="506.1,657.8 514.7,655.2 523.3,652.3 531.7,649.0 539.9,645.4 548.0,641.4 556.0,637.2 564.1,633.2 572.3,629.4 580.6,626.1 589.1,623.1 597.8,620.4 606.4,617.8 615.0,615.0 623.4,611.9 631.7,608.4 639.9,604.6 647.9,600.5 656.0,596.4 664.1,592.5 672.4,588.9" fill="none" stroke="#ffffff" stroke-width="1" stroke-linejoin="round" stroke-linecap="round" /><polyline points="511.1,670.1 519.2,666.2 527.4,662.6 535.9,659.4 544.4,656.6 553.1,653.9 561.7,651.3 570.2,648.4 578.6,645.1 586.9,641.5 594.9,637.5 603.0,633.4 611.1,629.3 619.2,625.6 627.6,622.2 636.1,619.2 644.7,616.5 653.4,613.9 662.0,611.1 670.4,608.1 678.7,604.6" fill="none" stroke="#ffffff" stroke-width="1" stroke-linejoin="round" stroke-linecap="round" /><polyline points="516.2,682.8 524.4,679.0 532.7,675.6 541.2,672.6 549.8,669.9 558.4,667.3 567.0,664.5 575.5,661.5 583.8,658.0 592.0,654.2 600.1,650.1 608.1,646.0 616.2,642.1 624.5,638.5 632.9,635.3 641.5,632.5 650.1,629.9 658.7,627.2 667.3,624.3 675.7,621.0 683.9,617.4" fill="none" stroke="#ffffff" stroke-width="1" stroke-linejoin="round" stroke-linecap="round" /><polyline points="521.3,695.4 529.6,691.9 538.1,688.9 546.7,686.1 555.3,683.5 563.9,680.8 572.4,677.8 580.7,674.4 588.9,670.6 597.0,666.6 605.0,662.5 613.1,658.5 621.4,654.9 629.8,651.6 638.3,648.8 647.0,646.1 655.6,643.5 664.2,640.6 672.6,637.4 680.8,633.8 688.9,629.8" fill="none" stroke="#ffffff" stroke-width="1" stroke-linejoin="round" stroke-linecap="round" /><polyline points="527.6,711.0 535.7,707.2 543.8,703.1 551.9,699.0 560.0,695.1 568.2,691.4 576.6,688.2 585.2,685.4 593.8,682.7 602.4,680.1 611.0,677.2 619.4,674.0 627.6,670.3 635.7,666.4 643.8,662.2 651.8,658.2 660.0,654.4 668.4,651.0 676.9,648.0 685.5,645.3 694.1,642.7" fill="none" stroke="#ffffff" stroke-width="1" stroke-linejoin="round" stroke-linecap="round" /><polyline points="531.9,721.7 540.1,718.0 548.4,714.6 556.9,711.6 565.5,708.9 574.2,706.2 582.8,703.5 591.3,700.4 599.6,697.0 607.7,693.1 615.8,689.0 623.8,684.9 631.9,681.0 640.2,677.4 648.6,674.3 657.2,671.5 665.9,668.8 674.5,666.2 683.0,663.3 691.4,660.0 699.6,656.3" fill="none" stroke="#ffffff" stroke-width="1" stroke-linejoin="round" stroke-linecap="round" /><polyline points="537.0,734.3 545.4,731.0 553.9,728.1 562.5,725.4 571.2,722.8 579.7,720.0 588.2,716.8 596.4,713.2 604.5,709.3 612.6,705.2 620.6,701.1 628.8,697.3 637.1,693.8 645.6,690.8 654.2,688.0 662.8,685.4 671.4,682.7 679.9,679.7 688.3,676.3 696.4,672.5 704.5,668.4" fill="none" stroke="#ffffff" stroke-width="1" stroke-linejoin="round" stroke-linecap="round" /><line x1="664.7" y1="569.9" x2="702.2" y2="662.6" stroke="#ffffff" stroke-width="1"/><line x1="636.9" y1="581.2" x2="674.4" y2="673.9" stroke="#ffffff" stroke-width="1"/><line x1="609.1" y1="592.4" x2="646.5" y2="685.1" stroke="#ffffff" stroke-width="1"/><line x1="581.3" y1="603.6" x2="618.7" y2="696.4" stroke="#ffffff" stroke-width="1"/><line x1="553.5" y1="614.9" x2="590.9" y2="707.6" stroke="#ffffff" stroke-width="1"/><line x1="525.6" y1="626.1" x2="563.1" y2="718.8" stroke="#ffffff" stroke-width="1"/><line x1="497.8" y1="637.4" x2="535.3" y2="730.1" stroke="#ffffff" stroke-width="1"/></g>
<g clip-path="url(#g4)"><polyline points="338.5,377.6 351.1,395.7 363.7,413.8 376.4,431.8 389.5,449.4 403.2,466.6 417.5,483.4 432.0,500.0 446.5,516.6 460.8,533.3 474.6,550.5 487.8,568.1 500.6,586.0 513.1,604.2 525.7,622.2 538.6,640.0 552.1,657.4 566.1,674.4 580.5,691.0 595.1,707.6 609.5,724.2" fill="none" stroke="#ffffff" stroke-width="1" stroke-linejoin="round" stroke-linecap="round" /><polyline points="325.2,388.0 338.7,405.3 352.9,422.2 367.4,438.8 381.9,455.4 396.3,472.1 410.2,489.1 423.5,506.6 436.3,524.5 448.9,542.6 461.4,560.8 474.3,578.6 487.6,596.1 501.6,613.2 515.9,629.9 530.5,646.4 545.0,663.0 559.1,679.9 572.6,697.2 585.7,715.0 598.3,733.0" fill="none" stroke="#ffffff" stroke-width="1" stroke-linejoin="round" stroke-linecap="round" /><polyline points="315.8,395.4 330.3,411.9 344.8,428.5 359.1,445.3 372.8,462.5 386.0,480.1 398.7,498.1 411.2,516.2 423.9,534.3 436.8,552.0 450.4,569.4 464.4,586.3 478.9,603.0 493.4,619.5 507.8,636.2 521.8,653.2 535.2,670.6 548.1,688.5 560.7,706.6 573.2,724.7 586.0,742.6" fill="none" stroke="#ffffff" stroke-width="1" stroke-linejoin="round" stroke-linecap="round" /><polyline points="304.7,404.0 318.2,421.4 332.4,438.2 346.8,454.9 361.4,471.4 375.8,488.1 389.7,505.2 403.0,522.6 415.9,540.5 428.4,558.6 441.0,576.7 453.8,594.6 467.2,612.1 481.1,629.2 495.4,645.9 510.0,662.4 524.4,679.0 538.6,695.9 552.2,713.2 565.2,730.9 577.8,749.0" fill="none" stroke="#ffffff" stroke-width="1" stroke-linejoin="round" stroke-linecap="round" /><polyline points="297.4,409.7 310.0,427.8 322.5,445.9 335.3,463.9 348.6,481.4 362.4,498.6 376.7,515.3 391.2,531.9 405.7,548.4 419.9,565.3 433.6,582.5 446.7,600.2 459.4,618.2 471.9,636.3 484.6,654.4 497.6,672.1 511.2,689.4 525.3,706.3 539.8,722.9 554.3,739.4 568.7,756.1" fill="none" stroke="#ffffff" stroke-width="1" stroke-linejoin="round" stroke-linecap="round" /><polyline points="287.9,417.2 300.9,434.9 313.6,452.9 326.1,471.1 338.8,489.1 351.9,506.8 365.5,524.0 379.7,540.8 394.2,557.4 408.8,574.0 423.1,590.7 436.9,607.8 450.2,625.4 463.0,643.3 475.5,661.4 488.1,679.5 501.0,697.4 514.4,714.8 528.4,731.8 542.8,748.5 557.4,765.0" fill="none" stroke="#ffffff" stroke-width="1" stroke-linejoin="round" stroke-linecap="round" /><polyline points="274.1,427.9 287.4,445.4 301.3,462.5 315.6,479.3 330.1,495.8 344.6,512.4 358.8,529.3 372.5,546.5 385.6,564.2 398.2,582.2 410.8,600.3 423.4,618.4 436.5,636.1 450.1,653.4 464.2,670.3 478.7,686.9 493.2,703.4 507.6,720.1 521.5,737.2 534.8,754.7 547.6,772.6" fill="none" stroke="#ffffff" stroke-width="1" stroke-linejoin="round" stroke-linecap="round" /><polyline points="264.8,435.2 277.5,453.2 290.7,470.8 304.5,487.9 318.7,504.7 333.3,521.3 347.8,537.9 362.0,554.7 375.8,571.8 389.0,589.5 401.7,607.4 414.2,625.6 426.8,643.6 439.8,661.4 453.3,678.8 467.4,695.7 481.8,712.3 496.4,728.9 510.8,745.5 524.7,762.6 538.2,780.0" fill="none" stroke="#ffffff" stroke-width="1" stroke-linejoin="round" stroke-linecap="round" /><polyline points="254.7,443.0 267.4,461.1 280.5,478.8 294.2,496.0 308.3,512.9 322.8,529.5 337.4,546.0 351.7,562.7 365.5,579.8 378.8,597.4 391.6,615.3 404.2,633.4 416.7,651.5 429.6,669.3 443.0,686.8 457.0,703.8 471.4,720.5 485.9,737.0 500.4,753.7 514.5,770.6 528.0,787.9" fill="none" stroke="#ffffff" stroke-width="1" stroke-linejoin="round" stroke-linecap="round" /><polyline points="246.9,449.2 260.2,466.7 273.0,484.6 285.5,502.7 298.1,520.8 311.0,538.7 324.4,556.1 338.4,573.1 352.8,589.8 367.4,606.3 381.8,623.0 395.9,639.9 409.4,657.3 422.4,675.0 435.0,693.1 447.5,711.2 460.2,729.2 473.4,746.8 487.2,764.0 501.4,780.8 515.9,797.4" fill="none" stroke="#ffffff" stroke-width="1" stroke-linejoin="round" stroke-linecap="round" /><polyline points="236.6,457.2 250.1,474.6 263.1,492.3 275.7,510.4 288.3,528.5 301.0,546.5 314.2,564.1 327.9,581.3 342.2,598.1 356.7,614.7 371.2,631.2 385.5,648.0 399.2,665.2 412.4,682.8 425.1,700.8 437.7,718.9 450.3,737.0 463.3,754.8 476.8,772.1 490.8,789.1 505.3,805.7" fill="none" stroke="#ffffff" stroke-width="1" stroke-linejoin="round" stroke-linecap="round" /><polyline points="222.7,468.1 236.7,485.1 251.1,501.8 265.6,518.3 280.1,534.9 294.1,551.9 307.6,569.3 320.6,587.0 333.2,605.1 345.7,623.2 358.5,641.2 371.7,658.8 385.4,676.0 399.7,692.8 414.2,709.3 428.7,725.9 443.0,742.7 456.7,759.9 469.9,777.5 482.6,795.5 495.1,813.6" fill="none" stroke="#ffffff" stroke-width="1" stroke-linejoin="round" stroke-linecap="round" /><polyline points="212.9,475.8 226.0,493.4 239.7,510.7 253.8,527.5 268.4,544.1 282.9,560.6 297.2,577.4 311.0,594.5 324.3,612.1 337.1,630.0 349.6,648.1 362.2,666.2 375.1,684.0 388.5,701.5 402.5,718.5 416.9,735.1 431.5,751.7 445.9,768.3 460.0,785.3 473.4,802.6 486.4,820.4" fill="none" stroke="#ffffff" stroke-width="1" stroke-linejoin="round" stroke-linecap="round" /><polyline points="205.4,481.6 219.5,498.5 232.9,515.9 245.9,533.7 258.5,551.8 271.0,569.9 283.8,587.9 297.0,605.5 310.8,622.6 325.0,639.4 339.6,656.0 354.1,672.5 368.3,689.3 382.0,706.5 395.2,724.2 407.9,742.2 420.4,760.3 433.1,778.4 446.1,796.1 459.6,813.5 473.7,830.4" fill="none" stroke="#ffffff" stroke-width="1" stroke-linejoin="round" stroke-linecap="round" /><polyline points="192.1,492.0 205.5,509.5 219.4,526.5 233.8,543.2 248.4,559.7 262.8,576.3 276.9,593.2 290.5,610.6 303.5,628.3 316.1,646.4 328.6,664.5 341.3,682.5 354.5,700.2 368.2,717.4 382.4,734.2 396.9,750.7 411.5,767.3 425.7,784.1 439.5,801.2 452.7,818.8 465.5,836.8" fill="none" stroke="#ffffff" stroke-width="1" stroke-linejoin="round" stroke-linecap="round" /><polyline points="181.8,500.0 196.0,516.9 210.4,533.5 225.0,550.0 239.3,566.8 253.2,583.9 266.5,601.4 279.3,619.3 291.9,637.4 304.4,655.5 317.3,673.4 330.7,690.8 344.6,707.8 359.0,724.5 373.6,741.1 388.0,757.7 402.1,774.6 415.7,791.9 428.7,809.7 441.3,827.8 453.8,845.9" fill="none" stroke="#ffffff" stroke-width="1" stroke-linejoin="round" stroke-linecap="round" /><polyline points="171.8,507.8 186.2,524.5 200.8,541.0 215.2,557.7 229.3,574.6 242.9,591.9 255.9,609.7 268.5,627.7 281.0,645.9 293.8,663.8 306.9,681.5 320.6,698.7 334.8,715.5 349.3,732.1 363.9,748.6 378.2,765.4 391.9,782.6 405.2,800.1 417.9,818.1 430.5,836.2 443.1,854.3" fill="none" stroke="#ffffff" stroke-width="1" stroke-linejoin="round" stroke-linecap="round" /><polyline points="161.5,515.9 174.7,533.5 188.5,550.6 202.8,567.4 217.3,584.0 231.8,600.5 246.1,617.3 259.8,634.5 273.0,652.2 285.7,670.2 298.2,688.3 310.8,706.3 323.8,724.1 337.3,741.5 351.4,758.4 365.9,775.0 380.4,791.5 394.8,808.2 408.8,825.2 422.2,842.7 435.1,860.5" fill="none" stroke="#ffffff" stroke-width="1" stroke-linejoin="round" stroke-linecap="round" /><polyline points="153.6,522.1 168.0,538.8 181.8,555.9 195.1,573.4 208.0,591.3 220.5,609.4 233.1,627.5 245.9,645.4 259.3,662.8 273.3,679.9 287.6,696.5 302.2,713.1 316.7,729.7 330.7,746.6 344.3,763.9 357.3,781.7 369.9,799.7 382.5,817.9 395.2,835.9 408.3,853.5 422.0,870.7" fill="none" stroke="#ffffff" stroke-width="1" stroke-linejoin="round" stroke-linecap="round" /><polyline points="143.1,530.3 157.5,546.9 171.5,563.9 185.0,581.3 197.9,599.1 210.5,617.2 223.1,635.3 235.8,653.3 249.1,670.8 262.9,688.0 277.1,704.7 291.7,721.3 306.2,737.9 320.4,754.7 334.1,771.9 347.2,789.6 359.9,807.6 372.5,825.7 385.1,843.7 398.1,861.5 411.7,878.8" fill="none" stroke="#ffffff" stroke-width="1" stroke-linejoin="round" stroke-linecap="round" /><polyline points="133.2,538.0 145.7,556.2 158.3,574.2 171.2,592.1 184.7,609.5 198.7,626.4 213.1,643.1 227.7,659.6 242.1,676.3 256.1,693.3 269.6,710.6 282.5,728.4 295.1,746.5 307.7,764.6 320.4,782.6 333.6,800.2 347.4,817.3 361.7,834.1 376.2,850.7 390.7,867.2 405.0,884.1" fill="none" stroke="#ffffff" stroke-width="1" stroke-linejoin="round" stroke-linecap="round" /><polyline points="123.4,545.7 137.5,562.6 151.0,579.9 164.0,597.7 176.6,615.7 189.2,633.9 201.9,651.9 215.0,669.5 228.8,686.7 243.0,703.5 257.5,720.1 272.0,736.6 286.3,753.4 300.1,770.6 313.3,788.2 326.0,806.1 338.6,824.2 351.2,842.3 364.1,860.1 377.6,877.5 391.6,894.5" fill="none" stroke="#ffffff" stroke-width="1" stroke-linejoin="round" stroke-linecap="round" /><polyline points="113.8,553.2 127.1,570.7 140.0,588.6 152.5,606.7 165.1,624.8 177.9,642.7 191.2,660.2 205.1,677.2 219.5,693.9 234.1,710.5 248.5,727.1 262.7,744.0 276.2,761.3 289.3,779.0 301.9,797.0 314.5,815.2 327.2,833.2 340.3,850.9 353.9,868.1 368.1,884.9 382.6,901.5" fill="none" stroke="#ffffff" stroke-width="1" stroke-linejoin="round" stroke-linecap="round" /><polyline points="95.3,573.4 107.1,562.6 119.3,552.2 131.8,542.3 144.7,532.7 157.6,523.3 170.5,513.7 183.1,503.8 195.3,493.5 207.2,482.7 218.8,471.7 230.3,460.6 242.0,449.6 254.1,439.1 266.5,429.0 279.2,419.3 292.1,409.8 305.1,400.3 317.8,390.6 330.2,380.4 342.2,369.8" fill="none" stroke="#ffffff" stroke-width="1" stroke-linejoin="round" stroke-linecap="round" /><polyline points="123.0,606.5 135.5,596.5 148.3,586.8 161.2,577.4 174.1,567.8 186.8,558.0 199.1,547.8 211.0,537.1 222.7,526.1 234.3,515.0 245.9,504.0 257.9,493.4 270.2,483.2 282.9,473.4 295.8,463.9 308.7,454.4 321.5,444.8 334.0,434.7 346.0,424.2 357.8,413.3 369.4,402.3" fill="none" stroke="#ffffff" stroke-width="1" stroke-linejoin="round" stroke-linecap="round" /><polyline points="152.1,641.2 163.8,630.2 175.8,619.6 188.2,609.5 200.9,599.8 213.9,590.3 226.8,580.8 239.5,571.1 251.9,561.0 263.9,550.4 275.6,539.5 287.2,528.4 298.8,517.3 310.7,506.6 322.9,496.3 335.5,486.4 348.4,476.8 361.3,467.4 374.2,457.8 386.7,447.8 398.9,437.5" fill="none" stroke="#ffffff" stroke-width="1" stroke-linejoin="round" stroke-linecap="round" /><polyline points="181.7,676.4 193.3,665.4 204.9,654.3 216.6,643.3 228.6,632.8 241.0,622.7 253.8,613.0 266.7,603.5 279.6,594.0 292.3,584.3 304.7,574.1 316.7,563.5 328.4,552.6 340.0,541.5 351.6,530.4 363.5,519.7 375.7,509.4 388.3,499.5 401.2,490.0 414.2,480.5 427.0,470.9" fill="none" stroke="#ffffff" stroke-width="1" stroke-linejoin="round" stroke-linecap="round" /><polyline points="209.8,709.9 222.5,700.2 234.9,690.1 247.0,679.6 258.7,668.7 270.3,657.6 281.9,646.5 293.8,635.7 305.9,625.4 318.5,615.4 331.3,605.8 344.3,596.4 357.2,586.8 369.7,576.9 382.0,566.6 393.8,555.8 405.4,544.8 417.0,533.7 428.7,522.8 440.7,512.2 453.2,502.1" fill="none" stroke="#ffffff" stroke-width="1" stroke-linejoin="round" stroke-linecap="round" /><polyline points="238.0,743.5 250.8,733.9 263.2,723.8 275.3,713.3 287.0,702.4 298.6,691.3 310.2,680.2 322.0,669.4 334.2,659.1 346.8,649.1 359.6,639.5 372.6,630.1 385.4,620.5 398.0,610.6 410.2,600.3 422.1,589.6 433.7,578.5 445.3,567.4 457.0,556.5 469.0,545.9 481.4,535.8" fill="none" stroke="#ffffff" stroke-width="1" stroke-linejoin="round" stroke-linecap="round" /><polyline points="265.1,775.9 278.1,766.4 291.0,756.9 303.7,747.1 316.0,736.9 328.0,726.3 339.6,715.3 351.2,704.2 362.8,693.2 374.8,682.5 387.1,672.3 399.7,662.4 412.6,652.9 425.6,643.5 438.4,633.8 450.8,623.8 463.0,613.4 474.7,602.5 486.3,591.4 497.9,580.3 509.7,569.5" fill="none" stroke="#ffffff" stroke-width="1" stroke-linejoin="round" stroke-linecap="round" /><polyline points="292.8,808.8 305.4,799.0 318.3,789.5 331.3,780.0 344.1,770.4 356.6,760.4 368.7,749.9 380.5,739.1 392.0,728.0 403.6,716.9 415.4,706.0 427.5,695.6 440.0,685.6 452.9,676.0 465.8,666.5 478.7,657.0 491.3,647.2 503.6,636.9 515.5,626.2 527.2,615.2 538.7,604.1" fill="none" stroke="#ffffff" stroke-width="1" stroke-linejoin="round" stroke-linecap="round" /><polyline points="322.9,844.7 334.4,833.6 346.0,822.5 357.9,811.7 370.0,801.3 382.6,791.4 395.4,781.8 408.4,772.3 421.2,762.8 433.8,752.9 446.1,742.6 457.9,731.8 469.6,720.8 481.1,709.7 492.8,698.7 504.8,688.2 517.2,678.1 530.0,668.3 542.9,658.9 555.8,649.4 568.6,639.6" fill="none" stroke="#ffffff" stroke-width="1" stroke-linejoin="round" stroke-linecap="round" /><polyline points="351.6,878.9 363.4,868.0 374.9,856.9 386.5,845.9 398.4,835.1 410.6,824.7 423.2,814.8 436.0,805.3 449.0,795.8 461.8,786.2 474.4,776.3 486.6,766.0 498.4,755.2 510.0,744.1 521.6,733.0 533.3,722.1 545.4,711.6 557.8,701.5 570.6,691.8 583.5,682.3 596.4,672.8" fill="none" stroke="#ffffff" stroke-width="1" stroke-linejoin="round" stroke-linecap="round" /><polyline points="379.6,912.3 391.2,901.2 402.8,890.1 414.5,879.2 426.6,868.7 439.0,858.7 451.8,849.0 464.8,839.5 477.7,830.0 490.3,820.2 502.7,810.0 514.6,799.4 526.3,788.4 537.9,777.3 549.5,766.3 561.4,755.6 573.7,745.4 586.4,735.6 599.3,726.0 612.2,716.6 625.0,706.9" fill="none" stroke="#ffffff" stroke-width="1" stroke-linejoin="round" stroke-linecap="round" /></g>
<g clip-path="url(#g5)"><polyline points="115.5,373.8 130.7,386.8 146.5,399.1 162.6,411.1 178.8,422.8 194.9,434.8 210.6,447.1 225.9,460.1 240.7,473.5 255.2,487.4 269.6,501.3 284.2,515.0 299.2,528.2 314.8,540.8 330.7,552.9 346.9,564.7 363.1,576.5 379.0,588.7 394.5,601.4 409.5,614.6 424.1,628.3" fill="none" stroke="#ffffff" stroke-width="1" stroke-linejoin="round" stroke-linecap="round" /><polyline points="110.0,380.3 124.6,394.1 139.0,408.0 153.5,421.8 168.4,435.2 183.7,448.1 199.5,460.4 215.6,472.3 231.9,484.0 247.9,496.0 263.6,508.5 278.8,521.5 293.5,535.1 307.9,549.0 322.4,562.9 337.1,576.5 352.2,589.6 367.8,602.1 383.8,614.1 400.0,625.9 416.2,637.8" fill="none" stroke="#ffffff" stroke-width="1" stroke-linejoin="round" stroke-linecap="round" /><polyline points="100.4,391.8 116.6,403.6 132.5,415.8 148.0,428.4 162.9,441.7 177.5,455.5 191.9,469.4 206.5,483.2 221.3,496.6 236.6,509.5 252.4,521.8 268.6,533.6 284.8,545.4 300.8,557.4 316.5,569.9 331.7,582.9 346.4,596.5 360.9,610.3 375.3,624.2 390.0,637.9 405.1,651.0" fill="none" stroke="#ffffff" stroke-width="1" stroke-linejoin="round" stroke-linecap="round" /><polyline points="92.7,401.0 107.1,414.9 121.6,428.8 136.4,442.3 151.6,455.2 167.4,467.5 183.5,479.5 199.7,491.2 215.8,503.2 231.5,515.6 246.8,528.5 261.5,542.0 276.0,555.9 290.4,569.8 305.1,583.5 320.1,596.6 335.7,609.2 351.7,621.3 367.9,633.1 384.0,644.9 399.9,657.1" fill="none" stroke="#ffffff" stroke-width="1" stroke-linejoin="round" stroke-linecap="round" /><polyline points="83.6,411.9 99.8,423.7 115.7,435.7 131.3,448.4 146.3,461.5 160.9,475.2 175.4,489.1 189.9,503.0 204.6,516.5 219.9,529.4 235.6,541.8 251.7,553.7 267.9,565.5 284.0,577.4 299.8,589.8 315.0,602.7 329.8,616.2 344.3,630.1 358.7,644.0 373.3,657.7 388.4,670.9" fill="none" stroke="#ffffff" stroke-width="1" stroke-linejoin="round" stroke-linecap="round" /><polyline points="74.9,422.2 89.4,436.0 104.3,449.4 119.7,462.2 135.5,474.4 151.7,486.3 167.9,498.1 183.9,510.1 199.5,522.6 214.7,535.7 229.3,549.3 243.8,563.2 258.2,577.1 273.0,590.6 288.1,603.7 303.8,616.2 319.8,628.2 336.0,639.9 352.2,651.8 368.0,664.1 383.3,676.9" fill="none" stroke="#ffffff" stroke-width="1" stroke-linejoin="round" stroke-linecap="round" /><polyline points="67.6,430.9 82.0,444.8 96.5,458.7 111.3,472.1 126.6,485.1 142.3,497.4 158.4,509.3 174.7,521.1 190.7,533.1 206.5,545.4 221.7,558.4 236.5,571.9 250.9,585.8 265.4,599.7 280.0,613.3 295.1,626.5 310.6,639.1 326.6,651.2 342.8,663.0 359.0,674.8 374.9,687.0" fill="none" stroke="#ffffff" stroke-width="1" stroke-linejoin="round" stroke-linecap="round" /><polyline points="57.4,443.1 72.3,456.4 87.6,469.3 103.5,481.5 119.6,493.4 135.8,505.2 151.9,517.2 167.5,529.7 182.6,542.7 197.3,556.3 211.8,570.2 226.2,584.1 240.9,597.7 256.1,610.8 271.7,623.2 287.8,635.2 304.0,647.0 320.1,658.9 335.9,671.2 351.3,684.0 366.2,697.4" fill="none" stroke="#ffffff" stroke-width="1" stroke-linejoin="round" stroke-linecap="round" /><polyline points="48.7,453.4 64.7,465.5 80.9,477.3 97.1,489.1 113.0,501.3 128.5,513.9 143.5,527.1 158.1,540.8 172.5,554.8 187.0,568.6 201.8,582.1 217.1,595.0 232.9,607.3 249.0,619.2 265.2,631.0 281.3,642.9 297.0,655.3 312.2,668.3 327.0,681.8 341.4,695.7 355.9,709.6" fill="none" stroke="#ffffff" stroke-width="1" stroke-linejoin="round" stroke-linecap="round" /><polyline points="41.9,461.5 56.4,475.4 71.0,489.0 86.2,502.1 101.8,514.6 117.8,526.7 134.0,538.5 150.1,550.3 166.0,562.5 181.4,575.3 196.3,588.7 210.8,602.4 225.3,616.4 239.8,630.2 254.7,643.5 270.1,656.3 286.0,668.5 302.1,680.3 318.3,692.1 334.4,704.2 349.9,716.7" fill="none" stroke="#ffffff" stroke-width="1" stroke-linejoin="round" stroke-linecap="round" /><polyline points="34.2,470.6 50.2,482.7 65.8,495.2 80.9,508.4 95.6,522.0 110.0,535.9 124.5,549.8 139.2,563.3 154.4,576.3 170.1,588.8 186.2,600.7 202.4,612.5 218.5,624.4 234.3,636.7 249.6,649.6 264.4,663.1 278.9,676.9 293.3,690.8 307.9,704.5 322.9,717.8 338.4,730.4" fill="none" stroke="#ffffff" stroke-width="1" stroke-linejoin="round" stroke-linecap="round" /><polyline points="24.5,482.2 39.1,495.9 54.1,509.2 69.6,521.8 85.5,534.0 101.7,545.8 117.9,557.6 133.9,569.7 149.4,582.3 164.4,595.6 179.0,609.3 193.4,623.2 207.9,637.0 222.7,650.5 238.0,663.4 253.8,675.7 269.9,687.7 286.1,699.4 302.2,711.4 317.9,723.8 333.1,736.8" fill="none" stroke="#ffffff" stroke-width="1" stroke-linejoin="round" stroke-linecap="round" /><polyline points="16.8,491.4 33.0,503.2 48.9,515.4 64.4,528.0 79.4,541.3 94.0,555.0 108.4,568.9 122.9,582.8 137.8,596.2 153.1,609.1 168.9,621.4 185.0,633.3 201.2,645.0 217.3,657.0 232.9,669.4 248.1,682.5 262.9,696.0 277.3,709.9 291.8,723.8 306.4,737.4 321.5,750.5" fill="none" stroke="#ffffff" stroke-width="1" stroke-linejoin="round" stroke-linecap="round" /><polyline points="6.9,503.3 22.1,516.2 37.9,528.6 54.0,540.5 70.2,552.3 86.3,564.2 102.0,576.6 117.2,589.5 132.0,603.0 146.5,616.9 160.9,630.8 175.6,644.5 190.6,657.7 206.2,670.3 222.1,682.3 238.3,694.1 254.5,706.0 270.4,718.1 285.9,730.8 300.8,744.1 315.4,757.8" fill="none" stroke="#ffffff" stroke-width="1" stroke-linejoin="round" stroke-linecap="round" /><polyline points="1.7,509.4 16.9,522.4 31.7,535.9 46.2,549.8 60.6,563.7 75.3,577.3 90.3,590.5 105.9,603.0 121.9,615.1 138.1,626.9 154.3,638.7 170.2,650.9 185.6,663.7 200.5,677.0 215.1,690.7 229.5,704.7 244.0,718.5 258.9,731.8 274.3,744.7 290.1,756.9 306.2,768.8" fill="none" stroke="#ffffff" stroke-width="1" stroke-linejoin="round" stroke-linecap="round" /><polyline points="-7.0,519.8 7.5,533.6 21.9,547.6 36.5,561.3 51.4,574.7 66.8,587.5 82.6,599.7 98.8,611.5 115.0,623.3 131.0,635.4 146.6,647.9 161.7,661.0 176.4,674.6 190.8,688.5 205.3,702.4 220.0,716.0 235.2,729.0 250.9,741.4 266.9,753.4 283.1,765.2 299.3,777.1" fill="none" stroke="#ffffff" stroke-width="1" stroke-linejoin="round" stroke-linecap="round" /><polyline points="-17.8,532.6 -1.6,544.5 14.6,556.3 30.6,568.3 46.3,580.7 61.5,593.8 76.2,607.3 90.7,621.2 105.1,635.1 119.8,648.7 134.9,661.8 150.5,674.3 166.5,686.4 182.7,698.1 198.9,710.0 214.8,722.2 230.1,735.0 245.0,748.4 259.6,762.2 274.0,776.1 288.5,789.9" fill="none" stroke="#ffffff" stroke-width="1" stroke-linejoin="round" stroke-linecap="round" /><polyline points="-26.6,543.2 -11.3,556.0 4.5,568.3 20.7,580.2 36.9,591.9 52.9,603.9 68.6,616.4 83.8,629.4 98.5,643.0 112.9,656.9 127.4,670.8 142.1,684.4 157.2,697.5 172.8,710.0 188.8,722.0 205.0,733.8 221.2,745.7 237.0,757.9 252.4,770.7 267.3,784.1 281.9,797.8" fill="none" stroke="#ffffff" stroke-width="1" stroke-linejoin="round" stroke-linecap="round" /><polyline points="-33.9,551.9 -17.7,563.7 -1.6,575.6 14.2,587.8 29.5,600.7 44.4,614.1 58.9,627.9 73.3,641.9 87.9,655.6 102.9,668.9 118.3,681.6 134.2,693.7 150.4,705.6 166.6,717.4 182.6,729.4 198.1,742.0 213.2,755.2 227.8,768.9 242.2,782.8 256.7,796.7 271.5,810.2" fill="none" stroke="#ffffff" stroke-width="1" stroke-linejoin="round" stroke-linecap="round" /><polyline points="-42.2,561.7 -27.6,575.5 -12.7,588.8 2.7,601.6 18.6,613.8 34.7,625.6 50.9,637.4 66.9,649.5 82.5,662.0 97.6,675.1 112.3,688.8 126.7,702.7 141.2,716.5 155.9,730.1 171.1,743.1 186.8,755.5 202.9,767.5 219.1,779.3 235.2,791.2 251.0,803.5 266.3,816.4" fill="none" stroke="#ffffff" stroke-width="1" stroke-linejoin="round" stroke-linecap="round" /><polyline points="-48.7,569.5 -34.1,583.2 -19.7,597.1 -5.2,611.0 9.6,624.4 24.9,637.3 40.7,649.7 56.8,661.6 73.0,673.4 89.1,685.3 104.8,697.7 120.0,710.7 134.8,724.2 149.3,738.1 163.7,752.0 178.3,765.6 193.4,778.8 209.0,791.4 225.0,803.4 241.2,815.2 257.3,827.1" fill="none" stroke="#ffffff" stroke-width="1" stroke-linejoin="round" stroke-linecap="round" /><polyline points="-60.1,583.1 -44.6,595.7 -28.6,607.8 -12.5,619.6 3.7,631.5 19.7,643.6 35.2,656.2 50.2,669.4 64.8,683.2 79.2,697.1 93.7,710.9 108.5,724.4 123.8,737.3 139.6,749.6 155.7,761.5 171.9,773.3 188.0,785.2 203.7,797.6 218.9,810.6 233.7,824.2 248.1,838.0" fill="none" stroke="#ffffff" stroke-width="1" stroke-linejoin="round" stroke-linecap="round" /><polyline points="-68.1,592.6 -52.0,604.5 -35.8,616.3 -19.6,628.2 -3.9,640.5 11.4,653.4 26.3,666.8 40.8,680.7 55.2,694.6 69.8,708.3 84.8,721.6 100.3,734.2 116.2,746.4 132.4,758.2 148.6,770.0 164.5,782.1 180.0,794.7 195.0,808.0 209.7,821.6 224.1,835.6 238.6,849.4" fill="none" stroke="#ffffff" stroke-width="1" stroke-linejoin="round" stroke-linecap="round" /><polyline points="-76.8,602.9 -61.4,615.7 -45.5,627.9 -29.3,639.8 -13.1,651.5 2.9,663.6 18.5,676.1 33.6,689.3 48.2,702.9 62.7,716.8 77.1,730.7 91.9,744.2 107.1,757.2 122.8,769.7 138.8,781.6 155.0,793.4 171.2,805.3 186.9,817.6 202.2,830.5 217.1,843.9 231.6,857.8" fill="none" stroke="#ffffff" stroke-width="1" stroke-linejoin="round" stroke-linecap="round" /><polyline points="-85.0,612.8 -69.8,625.8 -54.2,638.2 -38.1,650.2 -21.9,662.0 -5.7,673.9 10.1,686.2 25.4,699.0 40.2,712.4 54.7,726.3 69.1,740.2 83.7,753.9 98.7,767.2 114.2,779.9 130.1,792.0 146.3,803.8 162.5,815.7 178.4,827.7 194.0,840.4 209.0,853.6 223.6,867.2" fill="none" stroke="#ffffff" stroke-width="1" stroke-linejoin="round" stroke-linecap="round" /><polyline points="-67.8,636.6 -58.4,624.9 -48.9,613.2 -39.6,601.4 -30.7,589.3 -22.3,576.9 -14.3,564.2 -6.5,551.3 1.2,538.4 9.2,525.7 17.6,513.3 26.5,501.2 35.8,489.4 45.3,477.8 54.7,466.1 63.8,454.1 72.5,441.9 80.7,429.3 88.5,416.4 96.2,403.5 104.1,390.7" fill="none" stroke="#ffffff" stroke-width="1" stroke-linejoin="round" stroke-linecap="round" /><polyline points="-27.5,664.8 -19.4,652.2 -11.6,639.4 -3.8,626.5 4.0,613.7 12.3,601.1 21.1,589.0 30.2,577.1 39.7,565.4 49.2,553.7 58.4,541.9 67.2,529.7 75.5,517.2 83.4,504.5 91.2,491.6 99.0,478.7 107.0,466.0 115.6,453.7 124.6,441.7 134.0,430.0 143.5,418.3" fill="none" stroke="#ffffff" stroke-width="1" stroke-linejoin="round" stroke-linecap="round" /><polyline points="7.2,689.1 15.6,676.7 24.4,664.5 33.6,652.7 43.1,641.0 52.6,629.3 61.7,617.4 70.5,605.2 78.7,592.7 86.6,579.9 94.3,567.0 102.1,554.1 110.3,541.5 118.9,529.3 128.0,517.3 137.4,505.6 146.9,493.9 156.2,482.1 165.1,470.1 173.5,457.7 181.6,445.0" fill="none" stroke="#ffffff" stroke-width="1" stroke-linejoin="round" stroke-linecap="round" /><polyline points="45.8,716.1 53.6,703.3 61.9,690.8 70.6,678.6 79.8,666.7 89.2,655.0 98.7,643.3 107.9,631.5 116.7,619.3 125.1,606.9 133.0,594.1 140.8,581.2 148.5,568.4 156.6,555.7 165.1,543.3 174.1,531.3 183.5,519.6 193.0,507.9 202.3,496.1 211.4,484.1 219.9,471.8" fill="none" stroke="#ffffff" stroke-width="1" stroke-linejoin="round" stroke-linecap="round" /><polyline points="85.5,743.9 93.6,731.3 101.4,718.4 109.1,705.5 117.0,692.8 125.3,680.3 134.2,668.2 143.4,656.3 152.9,644.6 162.3,632.9 171.5,621.0 180.2,608.9 188.5,596.3 196.4,583.5 204.1,570.6 211.9,557.8 220.0,545.2 228.7,532.9 237.7,520.9 247.1,509.2 256.6,497.5" fill="none" stroke="#ffffff" stroke-width="1" stroke-linejoin="round" stroke-linecap="round" /><polyline points="120.2,768.2 129.4,756.4 138.8,744.7 148.3,733.0 157.5,721.1 166.3,709.0 174.6,696.5 182.5,683.7 190.2,670.8 198.0,657.9 206.1,645.3 214.7,633.0 223.7,621.0 233.1,609.2 242.6,597.6 251.9,585.8 260.9,573.8 269.4,561.4 277.5,548.8 285.3,535.9 293.0,523.0" fill="none" stroke="#ffffff" stroke-width="1" stroke-linejoin="round" stroke-linecap="round" /><polyline points="161.0,796.8 169.3,784.3 177.3,771.6 185.0,758.7 192.8,745.8 200.8,733.1 209.3,720.8 218.3,708.8 227.6,697.0 237.1,685.3 246.5,673.6 255.6,661.6 264.1,649.3 272.2,636.7 280.0,623.8 287.8,610.9 295.7,598.1 304.0,585.6 312.7,573.4 321.9,561.6 331.4,549.9" fill="none" stroke="#ffffff" stroke-width="1" stroke-linejoin="round" stroke-linecap="round" /><polyline points="195.4,820.9 204.2,808.7 213.4,796.9 222.8,785.2 232.3,773.5 241.5,761.6 250.3,749.4 258.5,736.9 266.4,724.2 274.2,711.2 282.0,698.4 290.1,685.8 298.7,673.5 307.7,661.5 317.1,649.8 326.6,638.1 335.9,626.3 344.9,614.3 353.4,601.9 361.4,589.2 369.2,576.4" fill="none" stroke="#ffffff" stroke-width="1" stroke-linejoin="round" stroke-linecap="round" /><polyline points="236.3,849.6 244.8,837.2 252.8,824.4 260.5,811.6 268.3,798.7 276.3,786.0 284.7,773.5 293.6,761.5 302.9,749.7 312.4,738.0 321.8,726.3 330.9,714.3 339.5,702.1 347.7,689.5 355.5,676.7 363.2,663.8 371.1,650.9 379.3,638.4 388.0,626.2 397.2,614.3 406.6,602.6" fill="none" stroke="#ffffff" stroke-width="1" stroke-linejoin="round" stroke-linecap="round" /></g>
<g clip-path="url(#g6)"><polyline points="320.8,868.2 331.6,859.1 342.6,850.5 354.0,842.4 365.9,834.9 378.1,827.9 390.4,821.1 402.5,814.0 414.3,806.4 425.7,798.2 436.6,789.5 447.3,780.4 458.0,771.2 468.9,762.3 480.1,754.0 491.8,746.3 503.9,739.1 516.2,732.2 528.4,725.3 540.4,718.0 551.9,710.1" fill="none" stroke="#ffffff" stroke-width="1" stroke-linejoin="round" stroke-linecap="round" /><polyline points="330.4,881.9 341.3,873.1 352.0,863.9 362.7,854.8 373.6,846.0 385.0,837.8 396.7,830.1 408.8,823.0 421.1,816.2 433.3,809.2 445.2,801.8 456.7,793.8 467.8,785.1 478.5,776.1 489.2,766.9 500.0,757.9 511.1,749.4 522.7,741.6 534.7,734.3 546.9,727.3 559.2,720.4" fill="none" stroke="#ffffff" stroke-width="1" stroke-linejoin="round" stroke-linecap="round" /><polyline points="338.1,892.9 348.9,883.9 359.5,874.7 370.4,865.7 381.5,857.3 393.1,849.4 405.1,842.1 417.4,835.2 429.6,828.3 441.7,821.1 453.3,813.3 464.5,804.9 475.4,796.0 486.0,786.8 496.8,777.7 507.8,769.0 519.2,760.9 531.0,753.4 543.2,746.4 555.5,739.5 567.6,732.5" fill="none" stroke="#ffffff" stroke-width="1" stroke-linejoin="round" stroke-linecap="round" /><polyline points="345.6,903.6 357.8,896.6 369.6,889.0 380.9,880.8 391.9,872.1 402.6,863.0 413.3,853.8 424.2,844.9 435.4,836.6 447.1,828.9 459.2,821.7 471.5,814.8 483.7,807.9 495.6,800.5 507.2,792.6 518.3,784.1 529.1,775.1 539.8,765.9 550.5,756.9 561.6,748.3 573.1,740.3" fill="none" stroke="#ffffff" stroke-width="1" stroke-linejoin="round" stroke-linecap="round" /><polyline points="352.3,913.1 364.5,906.1 376.7,899.2 388.8,892.1 400.6,884.4 411.8,876.1 422.7,867.3 433.4,858.2 444.1,849.0 455.1,840.2 466.4,832.0 478.2,824.4 490.3,817.3 502.6,810.4 514.8,803.4 526.7,796.0 538.1,788.0 549.2,779.4 559.9,770.3 570.6,761.1 581.4,752.2" fill="none" stroke="#ffffff" stroke-width="1" stroke-linejoin="round" stroke-linecap="round" /><polyline points="362.0,927.0 372.7,917.8 383.4,908.7 394.3,899.9 405.6,891.7 417.4,884.0 429.5,876.9 441.8,870.1 454.0,863.1 465.9,855.7 477.4,847.7 488.4,839.0 499.2,830.0 509.8,820.8 520.6,811.8 531.8,803.3 543.4,795.5 555.3,788.2 567.6,781.2 579.8,774.3 591.9,767.1" fill="none" stroke="#ffffff" stroke-width="1" stroke-linejoin="round" stroke-linecap="round" /><polyline points="369.0,937.0 381.3,930.1 393.4,923.0 405.1,915.4 416.5,907.2 427.4,898.4 438.1,889.3 448.8,880.1 459.7,871.3 471.0,863.0 482.7,855.3 494.8,848.2 507.1,841.3 519.3,834.3 531.2,826.9 542.7,819.0 553.8,810.4 564.6,801.4 575.3,792.2 586.0,783.2 597.2,774.7" fill="none" stroke="#ffffff" stroke-width="1" stroke-linejoin="round" stroke-linecap="round" /><polyline points="378.6,950.7 389.5,941.9 400.2,932.8 410.9,923.6 421.8,914.8 433.1,906.6 444.9,898.9 457.0,891.8 469.3,884.9 481.5,878.0 493.4,870.6 504.9,862.6 516.0,854.0 526.7,844.9 537.4,835.7 548.2,826.7 559.3,818.2 570.9,810.4 582.8,803.1 595.1,796.1 607.3,789.2" fill="none" stroke="#ffffff" stroke-width="1" stroke-linejoin="round" stroke-linecap="round" /><polyline points="385.3,960.3 396.0,951.1 406.9,942.3 418.2,934.1 430.0,926.5 442.1,919.4 454.4,912.5 466.6,905.5 478.5,898.1 490.0,890.1 501.0,881.5 511.8,872.4 522.5,863.3 533.3,854.3 544.4,845.8 556.0,837.9 567.9,830.6 580.2,823.6 592.4,816.7 604.5,809.6 616.2,801.8" fill="none" stroke="#ffffff" stroke-width="1" stroke-linejoin="round" stroke-linecap="round" /><polyline points="392.8,971.0 405.1,964.1 417.3,957.1 429.2,949.7 440.7,941.7 451.7,933.1 462.5,924.0 473.1,914.9 483.9,905.9 495.1,897.4 506.7,889.5 518.6,882.2 530.9,875.3 543.1,868.4 555.2,861.2 566.9,853.4 578.1,845.1 589.0,836.2 599.6,827.0 610.3,817.9 621.3,809.2" fill="none" stroke="#ffffff" stroke-width="1" stroke-linejoin="round" stroke-linecap="round" /><polyline points="399.9,981.1 411.5,973.3 423.5,966.1 435.8,959.1 448.0,952.2 460.0,945.0 471.7,937.2 482.9,928.7 493.7,919.8 504.4,910.6 515.1,901.5 526.1,892.9 537.5,884.8 549.4,877.3 561.6,870.3 573.9,863.5 586.0,856.4 597.8,848.8 609.2,840.7 620.1,831.9 630.9,822.8" fill="none" stroke="#ffffff" stroke-width="1" stroke-linejoin="round" stroke-linecap="round" /><polyline points="410.9,996.8 422.3,988.7 433.3,979.9 444.0,970.8 454.6,961.7 465.5,952.8 476.7,944.4 488.4,936.6 500.4,929.4 512.7,922.5 524.9,915.6 536.9,908.3 548.5,900.5 559.7,892.0 570.5,883.0 581.1,873.8 591.9,864.8 602.9,856.1 614.4,848.1 626.3,840.7 638.5,833.7" fill="none" stroke="#ffffff" stroke-width="1" stroke-linejoin="round" stroke-linecap="round" /><polyline points="418.1,1007.1 430.2,999.9 441.9,992.2 453.1,983.9 464.0,975.1 474.7,965.9 485.4,956.8 496.4,948.0 507.7,939.8 519.5,932.2 531.6,925.1 543.9,918.3 556.1,911.3 568.0,903.8 579.4,895.8 590.5,887.2 601.2,878.1 611.9,868.9 622.7,859.9 633.9,851.5 645.5,843.6" fill="none" stroke="#ffffff" stroke-width="1" stroke-linejoin="round" stroke-linecap="round" /><polyline points="426.8,1019.5 437.7,1010.7 448.4,1001.5 459.1,992.4 470.0,983.6 481.3,975.4 493.1,967.8 505.2,960.7 517.5,953.8 529.7,946.8 541.6,939.4 553.1,931.4 564.1,922.8 574.9,913.7 585.5,904.5 596.3,895.5 607.5,887.0 619.1,879.2 631.0,871.9 643.3,865.0 655.5,858.1" fill="none" stroke="#ffffff" stroke-width="1" stroke-linejoin="round" stroke-linecap="round" /><polyline points="434.6,1030.7 445.3,1021.6 456.0,1012.4 466.8,1003.4 477.9,994.9 489.4,987.0 501.4,979.6 513.6,972.7 525.9,965.8 538.0,958.6 549.7,950.9 560.9,942.6 571.8,933.8 582.5,924.6 593.2,915.5 604.2,906.7 615.5,898.5 627.3,891.0 639.4,883.9 651.7,877.0 663.9,870.0" fill="none" stroke="#ffffff" stroke-width="1" stroke-linejoin="round" stroke-linecap="round" /><polyline points="440.4,1039.0 452.5,1031.9 464.8,1025.0 477.0,1018.0 488.9,1010.5 500.3,1002.5 511.3,993.8 522.0,984.7 532.7,975.5 543.5,966.6 554.7,958.2 566.4,950.4 578.4,943.1 590.6,936.2 602.9,929.3 614.9,922.0 626.5,914.2 637.7,905.8 648.5,896.8 659.2,887.7 669.9,878.6" fill="none" stroke="#ffffff" stroke-width="1" stroke-linejoin="round" stroke-linecap="round" /><polyline points="450.1,1052.8 460.8,1043.7 471.5,1034.6 482.5,1025.9 494.0,1017.9 505.9,1010.4 518.0,1003.4 530.3,996.5 542.4,989.4 554.2,981.9 565.6,973.7 576.6,964.9 587.3,955.8 598.0,946.7 608.8,937.8 620.1,929.5 631.8,921.8 643.9,914.6 656.1,907.7 668.3,900.7 680.3,893.4" fill="none" stroke="#ffffff" stroke-width="1" stroke-linejoin="round" stroke-linecap="round" /><polyline points="543.3,703.2 551.0,712.4 558.8,721.6 566.3,731.0 573.4,740.7 580.0,750.7 586.2,761.1 592.2,771.5 598.2,781.9 604.6,792.1 611.4,802.0 618.7,811.5 626.4,820.8 634.2,830.0 641.8,839.3 649.1,848.9 655.9,858.8 662.2,869.0 668.3,879.4 674.3,889.8 680.5,900.1" fill="none" stroke="#ffffff" stroke-width="1" stroke-linejoin="round" stroke-linecap="round" /><polyline points="505.0,730.0 511.8,739.9 519.1,749.4 526.7,758.7 534.5,767.9 542.2,777.2 549.4,786.8 556.2,796.7 562.6,806.9 568.7,817.3 574.7,827.7 580.9,838.0 587.5,848.0 594.6,857.7 602.1,867.1 609.9,876.3 617.6,885.6 625.0,895.0 632.1,904.7 638.6,914.8 644.7,925.1" fill="none" stroke="#ffffff" stroke-width="1" stroke-linejoin="round" stroke-linecap="round" /><polyline points="467.3,756.4 474.2,766.2 481.5,775.7 489.2,785.0 497.0,794.2 504.6,803.5 511.8,813.2 518.5,823.1 524.8,833.3 530.8,843.8 536.8,854.2 543.1,864.5 549.8,874.4 557.0,884.0 564.6,893.4 572.3,902.6 580.0,911.9 587.4,921.3 594.3,931.1 600.8,941.3 606.9,951.6" fill="none" stroke="#ffffff" stroke-width="1" stroke-linejoin="round" stroke-linecap="round" /><polyline points="432.7,780.7 439.7,790.4 446.2,800.5 452.4,810.8 458.4,821.2 464.5,831.6 470.9,841.8 477.8,851.6 485.1,861.1 492.8,870.4 500.6,879.6 508.2,888.9 515.4,898.5 522.1,908.4 528.4,918.7 534.5,929.1 540.5,939.5 546.7,949.8 553.4,959.8 560.6,969.4 568.1,978.8" fill="none" stroke="#ffffff" stroke-width="1" stroke-linejoin="round" stroke-linecap="round" /><polyline points="392.2,809.0 399.8,818.3 407.6,827.5 415.3,836.8 422.6,846.3 429.5,856.1 435.9,866.3 442.0,876.7 448.0,887.1 454.1,897.5 460.7,907.5 467.7,917.3 475.2,926.7 482.9,935.9 490.7,945.1 498.2,954.5 505.3,964.2 511.9,974.2 518.1,984.6 524.1,995.0 530.1,1005.4" fill="none" stroke="#ffffff" stroke-width="1" stroke-linejoin="round" stroke-linecap="round" /><polyline points="357.4,833.4 364.3,843.2 370.7,853.3 376.9,863.7 382.8,874.1 389.0,884.5 395.5,894.6 402.5,904.3 409.9,913.8 417.6,923.0 425.4,932.3 432.9,941.6 440.0,951.3 446.7,961.3 452.9,971.6 458.9,982.0 465.0,992.4 471.3,1002.6 478.1,1012.5 485.3,1022.1 493.0,1031.4" fill="none" stroke="#ffffff" stroke-width="1" stroke-linejoin="round" stroke-linecap="round" /><polyline points="317.9,861.0 325.7,870.2 333.2,879.6 340.4,889.2 347.1,899.2 353.4,909.4 359.4,919.9 365.4,930.3 371.7,940.5 378.4,950.5 385.7,960.1 393.3,969.4 401.0,978.6 408.7,987.9 416.1,997.4 423.0,1007.2 429.4,1017.3 435.5,1027.7 441.5,1038.2 447.6,1048.5 454.2,1058.6" fill="none" stroke="#ffffff" stroke-width="1" stroke-linejoin="round" stroke-linecap="round" /></g>
<polygon points="420.0,534.0 447.5,509.6 496.9,565.2 604.0,478.0 611.0,486.0 627.0,530.0 497.0,608.0 477.0,618.0 468.0,616.0 446.0,592.0 431.0,562.0" fill="#d4e8bb" />
<polygon points="63.0,589.5 78.7,584.6 102.0,599.3 94.3,607.0 78.7,617.0 59.0,615.0" fill="#e1e6ba" />
<ellipse cx="112" cy="624.5" rx="45.5" ry="22.5" transform="rotate(-6 112 624.5)" fill="#e1e6ba"/>
<polygon points="67.0,632.0 78.7,667.8 94.3,667.8 108.0,641.0" fill="#e1e6ba" />
<polygon points="58.0,555.3 71.2,540.6 74.8,548.5" fill="#c1daa5" />
<polygon points="294.5,540.0 316.7,554.6 297.7,568.8 288.0,554.6" fill="#c1daa5" />
<polygon points="267.0,533.0 285.0,530.0 292.0,545.0 274.0,549.0" fill="#e1e6ba" />
<polygon points="237.0,629.6 248.8,627.7 253.7,638.4 251.8,648.2 235.0,646.3" fill="#c1daa5" />
<polygon points="345.0,611.5 384.7,597.0 383.0,611.5 369.0,630.5 365.8,622.0 350.0,619.0" fill="#e1e6ba" />
<polygon points="236.5,688.0 253.5,672.6 271.7,687.0 280.8,707.8 269.0,713.0 256.0,718.0 248.0,702.6" fill="#c1daa5" />
<polygon points="250.0,704.0 262.0,698.0 272.0,711.0 257.0,719.0" fill="#e1e6ba" />
<polygon points="317.4,717.0 327.8,718.0 338.0,747.0 329.0,762.6 320.0,739.0" fill="#e1e6ba" />
<polygon points="249.6,777.0 258.7,775.6 295.0,796.5 289.5,809.5" fill="#cfe2b2" />
<polygon points="466.0,690.8 490.7,701.3 480.3,720.8 466.0,715.6 454.3,706.5" fill="#e1e6ba" />
<polygon points="445.0,857.7 459.5,848.6 471.0,861.6 472.5,874.7 459.5,883.8" fill="#e1e6ba" />
<polygon points="490.8,840.8 513.0,851.2 510.3,876.0 489.5,870.8 485.5,848.6" fill="#c1daa5" />
<polygon points="532.5,842.0 574.2,839.5 576.8,861.6 566.4,898.0 550.7,911.2 527.3,898.0 536.4,869.5" fill="#e1e6ba" />
<polygon points="593.4,890.2 630.2,864.6 655.8,867.8 675.0,858.0 700.7,851.8 694.3,871.0 668.6,880.6 652.6,887.0 666.0,930.3 661.6,922.2 639.8,937.6 640.4,948.5 585.3,984.7 575.7,973.5 571.9,938.3 578.9,912.6" fill="#c1daa5" />
<polygon points="705.5,826.0 720.0,816.5 736.0,842.0 726.3,858.0 707.0,877.4 697.5,874.0 702.3,851.8" fill="#c1daa5" />
<polygon points="643.0,835.7 668.6,818.0 686.3,839.0 675.0,858.0 652.6,856.6" fill="#e1e6ba" />
<polygon points="724.0,840.0 734.0,836.0 738.0,852.0 728.0,858.0" fill="#e1e6ba" />
<polygon points="688.4,707.0 702.9,702.3 708.2,716.8 694.4,724.0" fill="#e1e6ba" />
<polygon points="627.8,745.9 649.6,738.6 653.2,743.4 632.7,752.0" fill="#c1daa5" />
<polygon points="798.6,720.4 832.5,714.4 834.9,731.3 802.2,733.8" fill="#c1daa5" />
<polygon points="808.2,703.5 828.8,702.0 830.0,714.5 809.0,716.0" fill="#e1e6ba" />
<polygon points="567.3,617.5 590.3,606.6 593.9,613.9 570.9,624.8" fill="#c1daa5" />
<polygon points="668.0,588.0 694.0,578.0 696.0,581.0 670.0,592.0" fill="#c1daa5" />
<polygon points="636.0,529.0 668.2,493.8 682.0,504.5 693.7,526.0 709.3,559.3 705.4,563.2 654.5,565.2 644.8,549.5" fill="#f4cabd" />
<polygon points="799.2,894.5 809.3,889.5 836.9,923.9 834.8,929.5 795.5,956.0 773.7,953.6 772.8,937.6" fill="#e1e6ba" />
<polyline points="432.0,528.0 443.0,522.0 452.0,528.0 476.0,560.0 470.0,572.0 440.0,586.0" fill="none" stroke="#ffffff" stroke-width="1.7" stroke-linejoin="round" stroke-linecap="round" />
<polyline points="437.0,545.0 458.0,533.0" fill="none" stroke="#ffffff" stroke-width="1.6" stroke-linejoin="round" stroke-linecap="round" />
<polyline points="442.0,557.0 466.0,544.0" fill="none" stroke="#ffffff" stroke-width="1.6" stroke-linejoin="round" stroke-linecap="round" />
<polyline points="448.0,569.0 472.0,555.0" fill="none" stroke="#ffffff" stroke-width="1.6" stroke-linejoin="round" stroke-linecap="round" />
<polyline points="515.6,558.0 598.0,501.0 603.0,503.0 611.0,517.0 610.0,522.0 523.5,571.0 515.6,558.0" fill="none" stroke="#ffffff" stroke-width="1.8" stroke-linejoin="round" stroke-linecap="round" />
<polyline points="537.0,541.5 545.0,554.5" fill="none" stroke="#ffffff" stroke-width="1.6" stroke-linejoin="round" stroke-linecap="round" />
<polyline points="560.0,526.5 568.0,540.0" fill="none" stroke="#ffffff" stroke-width="1.6" stroke-linejoin="round" stroke-linecap="round" />
<polyline points="583.0,511.5 591.0,527.0" fill="none" stroke="#ffffff" stroke-width="1.6" stroke-linejoin="round" stroke-linecap="round" />
<polyline points="519.0,564.0 607.0,510.0" fill="none" stroke="#ffffff" stroke-width="1.6" stroke-linejoin="round" stroke-linecap="round" />
<polyline points="560.0,526.5 603.0,503.0" fill="none" stroke="#ffffff" stroke-width="1.6" stroke-linejoin="round" stroke-linecap="round" />
<ellipse cx="478" cy="590" rx="12" ry="9" fill="none" stroke="#ffffff" stroke-width="1.6"/><ellipse cx="478" cy="590" rx="5" ry="4" fill="none" stroke="#ffffff" stroke-width="1.6"/>
<line x1="650" y1="532" x2="668" y2="513" stroke="#f9e3da" stroke-width="1.3"/>
<line x1="656" y1="535" x2="674" y2="516" stroke="#f9e3da" stroke-width="1.3"/>
<line x1="662" y1="538" x2="680" y2="519" stroke="#f9e3da" stroke-width="1.3"/>
<line x1="668" y1="541" x2="686" y2="522" stroke="#f9e3da" stroke-width="1.3"/>
<line x1="674" y1="544" x2="692" y2="525" stroke="#f9e3da" stroke-width="1.3"/>
<line x1="680" y1="547" x2="698" y2="528" stroke="#f9e3da" stroke-width="1.3"/>
<line x1="686" y1="550" x2="704" y2="531" stroke="#f9e3da" stroke-width="1.3"/>
<line x1="662" y1="560" x2="676" y2="548" stroke="#f9e3da" stroke-width="1.3"/>
<line x1="669" y1="560" x2="683" y2="548" stroke="#f9e3da" stroke-width="1.3"/>
<line x1="676" y1="560" x2="690" y2="548" stroke="#f9e3da" stroke-width="1.3"/>
<line x1="683" y1="560" x2="697" y2="548" stroke="#f9e3da" stroke-width="1.3"/>
<line x1="690" y1="560" x2="704" y2="548" stroke="#f9e3da" stroke-width="1.3"/>
<polyline points="344.7,709.0 376.0,740.4 391.7,735.0 412.5,749.5 425.6,765.0 437.3,736.5 428.0,684.0 438.6,671.0 449.0,676.5 467.3,676.5" fill="none" stroke="#8ccdf3" stroke-width="1.3" stroke-linejoin="round" stroke-linecap="round" />
<polyline points="349.0,744.0 483.0,915.0 557.0,1010.0" fill="none" stroke="#ffffff" stroke-width="2.4" stroke-linejoin="round" stroke-linecap="round" />
<polyline points="60.0,394.0 95.0,440.0 120.0,480.0 140.0,500.0 165.0,520.0 200.0,548.0 240.0,590.0 277.0,640.0 310.0,690.0 335.0,728.0 349.0,744.0" fill="none" stroke="#ffffff" stroke-width="6.6" stroke-linejoin="round" stroke-linecap="round" />
<polyline points="558.0,394.0 606.0,479.0 700.0,675.0 732.7,730.0 809.6,848.5 861.0,912.0 933.0,1000.0" fill="none" stroke="#ffffff" stroke-width="6" stroke-linejoin="round" stroke-linecap="round" />
<polyline points="391.7,799.0 412.5,786.0 464.7,790.0 516.8,782.0 537.7,754.7 543.0,718.0 560.0,695.0 630.0,673.0 686.0,649.0 729.5,632.0 749.0,620.0 766.0,617.0 816.7,617.0 850.0,619.0 900.0,600.0 933.0,590.0" fill="none" stroke="#ffffff" stroke-width="5.4" stroke-linejoin="round" stroke-linecap="round" />
<polyline points="331.7,711.7 395.0,685.0 438.0,640.0 465.6,630.4 497.0,614.7 627.0,531.0 668.0,494.0" fill="none" stroke="#ffffff" stroke-width="5" stroke-linejoin="round" stroke-linecap="round" />
<polyline points="729.5,571.5 751.0,637.0 761.0,675.6 785.0,733.8 816.7,772.5 822.0,781.0" fill="none" stroke="#ffffff" stroke-width="2.2" stroke-linejoin="round" stroke-linecap="round" />
<polyline points="729.5,571.5 751.0,637.0 761.0,675.6 785.0,733.8 816.7,772.5 822.0,781.0" fill="none" stroke="#c9c8c4" stroke-width="0.9" stroke-linejoin="round" stroke-linecap="round" />
<polyline points="556.0,600.0 570.0,632.0 584.0,661.0 590.0,690.0" fill="none" stroke="#ffffff" stroke-width="2.2" stroke-linejoin="round" stroke-linecap="round" />
<polyline points="5.0,520.0 60.0,515.0 130.0,470.0 200.0,440.0 260.0,430.0 330.0,420.0 360.0,394.0" fill="none" stroke="#ffffff" stroke-width="3.2" stroke-linejoin="round" stroke-linecap="round" />
<polyline points="5.0,577.0 32.0,577.0 51.3,562.0 85.0,549.0 102.0,538.7 106.0,519.0 120.0,506.0 137.0,501.0" fill="none" stroke="#ffffff" stroke-width="4.6" stroke-linejoin="round" stroke-linecap="round" />
<polyline points="836.0,394.0 845.0,430.0 880.0,470.0 905.0,520.0 925.0,600.0 933.0,660.0" fill="none" stroke="#ffffff" stroke-width="3" stroke-linejoin="round" stroke-linecap="round" />
<polyline points="869.0,600.0 873.0,650.0 885.0,720.0 900.0,780.0" fill="none" stroke="#ffffff" stroke-width="2.4" stroke-linejoin="round" stroke-linecap="round" />
<polyline points="676.0,394.0 690.0,440.0 712.0,480.0 728.0,560.0" fill="none" stroke="#ffffff" stroke-width="2" stroke-linejoin="round" stroke-linecap="round" />
<polyline points="740.0,394.0 744.0,440.0 748.0,466.0" fill="none" stroke="#ffffff" stroke-width="2" stroke-linejoin="round" stroke-linecap="round" />
<polyline points="745.0,548.0 748.0,600.0 762.0,640.0" fill="none" stroke="#c9c8c4" stroke-width="1.2" stroke-linejoin="round" stroke-linecap="round" />
<polyline points="720.0,600.0 810.0,600.0" fill="none" stroke="#ffffff" stroke-width="1.6" stroke-linejoin="round" stroke-linecap="round" />
<polyline points="290.0,390.0 305.0,402.0 322.0,414.0 345.0,433.0 362.0,452.0 377.0,471.0 392.0,492.0 400.0,505.0 408.0,517.0 417.0,533.0 428.0,560.0 440.0,586.0 460.0,610.0 486.5,633.0 512.5,669.5 543.8,700.7 554.0,720.0 560.0,735.0 567.4,748.0 580.5,772.0 593.5,798.0 598.0,818.7 597.2,841.0 589.8,869.0 576.8,898.8 565.6,920.0 560.0,932.0 555.0,953.0 553.0,972.0 553.5,990.0 556.0,1000.0 561.0,1013.0 572.0,1031.0 586.0,1053.0" fill="none" stroke="#eeb678" stroke-width="10.7" stroke-linejoin="round" stroke-linecap="round" />
<polyline points="632.0,601.0 653.0,589.5 676.0,577.0 710.0,567.0 735.0,568.0 754.0,571.0 778.0,576.0 800.0,572.0 815.0,566.0 832.0,560.0 848.0,572.0" fill="none" stroke="#eeb678" stroke-width="10.7" stroke-linejoin="round" stroke-linecap="round" />
<polyline points="490.0,636.0 504.8,640.2 528.2,637.6 554.3,633.7 567.3,630.4 593.4,617.4 619.5,604.3 639.0,595.5" fill="none" stroke="#eeb678" stroke-width="6.4" stroke-linejoin="round" stroke-linecap="round" />
<polyline points="521.0,677.0 528.2,670.8 541.3,663.0 554.3,651.3 567.3,642.0 580.4,634.3 593.4,626.5 613.0,614.8 632.0,603.0 645.0,596.0" fill="none" stroke="#eeb678" stroke-width="5.8" stroke-linejoin="round" stroke-linecap="round" />
<polyline points="540.0,690.0 540.0,676.0 543.9,665.6 554.3,653.9" fill="none" stroke="#eeb678" stroke-width="4.5" stroke-linejoin="round" stroke-linecap="round" />
<polyline points="508.7,651.3 517.8,642.0" fill="none" stroke="#eeb678" stroke-width="5.2" stroke-linejoin="round" stroke-linecap="round" />
<polyline points="760.0,571.0 790.0,564.0 815.0,556.0 830.0,540.0 836.0,520.0" fill="none" stroke="#eeb678" stroke-width="5.2" stroke-linejoin="round" stroke-linecap="round" />
<polyline points="770.0,575.0 800.0,581.0 815.0,578.0 835.0,590.0 848.0,610.0" fill="none" stroke="#eeb678" stroke-width="5.2" stroke-linejoin="round" stroke-linecap="round" />
<polyline points="509.0,669.0 533.4,694.3" fill="none" stroke="#eeb678" stroke-width="4.4" stroke-linejoin="round" stroke-linecap="round" />
<polyline points="806.0,394.0 812.0,450.0 817.0,480.0 828.0,515.0 840.0,555.0 848.0,600.0 851.0,619.0 860.0,670.0 869.0,712.0 880.0,760.0 890.0,800.0 906.0,843.0 932.0,888.0 940.0,900.0" fill="none" stroke="#eeb678" stroke-width="11.7" stroke-linejoin="round" stroke-linecap="round" />
<polyline points="290.0,390.0 305.0,402.0 322.0,414.0 345.0,433.0 362.0,452.0 377.0,471.0 392.0,492.0 400.0,505.0 408.0,517.0 417.0,533.0 428.0,560.0 440.0,586.0 460.0,610.0 486.5,633.0 512.5,669.5 543.8,700.7 554.0,720.0 560.0,735.0 567.4,748.0 580.5,772.0 593.5,798.0 598.0,818.7 597.2,841.0 589.8,869.0 576.8,898.8 565.6,920.0 560.0,932.0 555.0,953.0 553.0,972.0 553.5,990.0 556.0,1000.0 561.0,1013.0 572.0,1031.0 586.0,1053.0" fill="none" stroke="#f7c68c" stroke-width="9.5" stroke-linejoin="round" stroke-linecap="round" />
<polyline points="632.0,601.0 653.0,589.5 676.0,577.0 710.0,567.0 735.0,568.0 754.0,571.0 778.0,576.0 800.0,572.0 815.0,566.0 832.0,560.0 848.0,572.0" fill="none" stroke="#f7c68c" stroke-width="9.5" stroke-linejoin="round" stroke-linecap="round" />
<polyline points="490.0,636.0 504.8,640.2 528.2,637.6 554.3,633.7 567.3,630.4 593.4,617.4 619.5,604.3 639.0,595.5" fill="none" stroke="#f7c68c" stroke-width="5.2" stroke-linejoin="round" stroke-linecap="round" />
<polyline points="521.0,677.0 528.2,670.8 541.3,663.0 554.3,651.3 567.3,642.0 580.4,634.3 593.4,626.5 613.0,614.8 632.0,603.0 645.0,596.0" fill="none" stroke="#f7c68c" stroke-width="4.6" stroke-linejoin="round" stroke-linecap="round" />
<polyline points="540.0,690.0 540.0,676.0 543.9,665.6 554.3,653.9" fill="none" stroke="#f7c68c" stroke-width="3.3" stroke-linejoin="round" stroke-linecap="round" />
<polyline points="508.7,651.3 517.8,642.0" fill="none" stroke="#f7c68c" stroke-width="4" stroke-linejoin="round" stroke-linecap="round" />
<polyline points="760.0,571.0 790.0,564.0 815.0,556.0 830.0,540.0 836.0,520.0" fill="none" stroke="#f7c68c" stroke-width="4" stroke-linejoin="round" stroke-linecap="round" />
<polyline points="770.0,575.0 800.0,581.0 815.0,578.0 835.0,590.0 848.0,610.0" fill="none" stroke="#f7c68c" stroke-width="4" stroke-linejoin="round" stroke-linecap="round" />
<polyline points="509.0,669.0 533.4,694.3" fill="none" stroke="#f7c68c" stroke-width="3.2" stroke-linejoin="round" stroke-linecap="round" />
<polyline points="806.0,394.0 812.0,450.0 817.0,480.0 828.0,515.0 840.0,555.0 848.0,600.0 851.0,619.0 860.0,670.0 869.0,712.0 880.0,760.0 890.0,800.0 906.0,843.0 932.0,888.0 940.0,900.0" fill="none" stroke="#f7c68c" stroke-width="10.5" stroke-linejoin="round" stroke-linecap="round" />
<polyline points="812.0,450.0 817.0,480.0 828.0,515.0 840.0,555.0 848.0,600.0 851.0,619.0 860.0,670.0 865.0,695.0" fill="none" stroke="#f7c68c" stroke-width="13.2" stroke-linejoin="round" stroke-linecap="round" />
<g transform="translate(122,484)"><rect x="-8" y="-7.500" width="16" height="15" rx="2" fill="#fff" stroke="#8a8a86" stroke-width="1.300"/><text x="0" y="3.600" text-anchor="middle" font-size="9.500" font-weight="700" fill="#333">35</text></g>
<g transform="translate(241,591)"><rect x="-8" y="-7.500" width="16" height="15" rx="2" fill="#fff" stroke="#8a8a86" stroke-width="1.300"/><text x="0" y="3.600" text-anchor="middle" font-size="9.500" font-weight="700" fill="#333">35</text></g>
<g transform="translate(342,735)"><rect x="-8" y="-7.500" width="16" height="15" rx="2" fill="#fff" stroke="#8a8a86" stroke-width="1.300"/><text x="0" y="3.600" text-anchor="middle" font-size="9.500" font-weight="700" fill="#333">35</text></g>
<g transform="translate(478,913)"><rect x="-8" y="-7.500" width="16" height="15" rx="2" fill="#fff" stroke="#8a8a86" stroke-width="1.300"/><text x="0" y="3.600" text-anchor="middle" font-size="9.500" font-weight="700" fill="#333">35</text></g>
<g transform="translate(400,500)"><path d="M-9.500 -8h19c.5 3 .3 6-.8 9-1.500 4-4.500 6.500-8.700 8-4.200-1.500-7.200-4-8.700-8-1.100-3-1.300-6-.8-9z" fill="#5c84b4" stroke="#fff" stroke-width="1"/><path d="M-9.500 -8h19c.2 1.200.3 2.400.2 3.500h-19.400c-.1-1.100 0-2.300.2-3.500z" fill="#c9505a"/><text x="0" y="4.200" text-anchor="middle" font-size="8.600" font-weight="700" fill="#fff">280</text></g>
<g transform="translate(569,754)"><path d="M-9.500 -8h19c.5 3 .3 6-.8 9-1.500 4-4.500 6.500-8.700 8-4.200-1.500-7.200-4-8.700-8-1.100-3-1.300-6-.8-9z" fill="#5c84b4" stroke="#fff" stroke-width="1"/><path d="M-9.500 -8h19c.2 1.200.3 2.400.2 3.500h-19.400c-.1-1.100 0-2.300.2-3.500z" fill="#c9505a"/><text x="0" y="4.200" text-anchor="middle" font-size="8.600" font-weight="700" fill="#fff">280</text></g>
<g transform="translate(560,1000)"><path d="M-9.500 -8h19c.5 3 .3 6-.8 9-1.500 4-4.500 6.500-8.700 8-4.200-1.500-7.200-4-8.700-8-1.100-3-1.300-6-.8-9z" fill="#5c84b4" stroke="#fff" stroke-width="1"/><path d="M-9.500 -8h19c.2 1.200.3 2.400.2 3.500h-19.400c-.1-1.100 0-2.300.2-3.500z" fill="#c9505a"/><text x="0" y="4.200" text-anchor="middle" font-size="8.600" font-weight="700" fill="#fff">280</text></g>
<g transform="translate(642,592)"><path d="M-9.500 -8h19c.5 3 .3 6-.8 9-1.500 4-4.500 6.500-8.700 8-4.200-1.500-7.200-4-8.700-8-1.100-3-1.300-6-.8-9z" fill="#5c84b4" stroke="#fff" stroke-width="1"/><path d="M-9.500 -8h19c.2 1.200.3 2.400.2 3.500h-19.400c-.1-1.100 0-2.300.2-3.500z" fill="#c9505a"/><text x="0" y="4.200" text-anchor="middle" font-size="8.600" font-weight="700" fill="#fff">380</text></g>
<g transform="translate(847,607)"><path d="M-9.500 -7c3 .8 6 .8 9.500-.8 3.500 1.600 6.500 1.600 9.500.8 .8 3 .8 6-.4 9-1.600 3-4.600 5-9.100 6.400-4.500-1.400-7.500-3.400-9.100-6.400-1.200-3-1.200-6-.4-9z" fill="#fff" stroke="#8a8a86" stroke-width="1.200"/><text x="0" y="3.600" text-anchor="middle" font-size="8.600" font-weight="700" fill="#444">101</text></g>
<text transform="translate(80,428) rotate(58)" text-anchor="middle" font-size="10.3" font-weight="400" fill="#5a5a5a" stroke="#f3f1ed" stroke-width="2.6" paint-order="stroke" stroke-linejoin="round" letter-spacing="0.5" >Skyline Dr</text>
<text transform="translate(137,408) rotate(58)" text-anchor="middle" font-size="10.3" font-weight="400" fill="#5a5a5a" stroke="#f3f1ed" stroke-width="2.6" paint-order="stroke" stroke-linejoin="round" letter-spacing="0.5" >Blvd</text>
<text transform="translate(253,436) rotate(-22)" text-anchor="middle" font-size="10.3" font-weight="400" fill="#5a5a5a" stroke="#f3f1ed" stroke-width="2.6" paint-order="stroke" stroke-linejoin="round" letter-spacing="0.5" >Westborough Blvd</text>
<text transform="translate(336,419) rotate(52)" text-anchor="middle" font-size="10.3" font-weight="400" fill="#5a5a5a" stroke="#f3f1ed" stroke-width="2.6" paint-order="stroke" stroke-linejoin="round" letter-spacing="0.5" >Serra Blvd</text>
<text transform="translate(446,452) rotate(-33)" text-anchor="middle" font-size="10.3" font-weight="400" fill="#5a5a5a" stroke="#f3f1ed" stroke-width="2.6" paint-order="stroke" stroke-linejoin="round" letter-spacing="0.5" >Avalon Dr</text>
<text transform="translate(466,491) rotate(-28)" text-anchor="middle" font-size="10.3" font-weight="400" fill="#5a5a5a" stroke="#f3f1ed" stroke-width="2.6" paint-order="stroke" stroke-linejoin="round" letter-spacing="0.5" >Alta Vista Dr</text>
<text transform="translate(287,500) rotate(57)" text-anchor="middle" font-size="10.3" font-weight="400" fill="#5a5a5a" stroke="#f3f1ed" stroke-width="2.6" paint-order="stroke" stroke-linejoin="round" letter-spacing="0.5" >Donegal Ave</text>
<text transform="translate(567,509) rotate(-32)" text-anchor="middle" font-size="10.3" font-weight="400" fill="#5a5a5a" stroke="#f3f1ed" stroke-width="2.6" paint-order="stroke" stroke-linejoin="round" letter-spacing="0.5" >Rockwood Dr</text>
<text transform="translate(690,424) rotate(-62)" text-anchor="middle" font-size="10.3" font-weight="400" fill="#5a5a5a" stroke="#f3f1ed" stroke-width="2.6" paint-order="stroke" stroke-linejoin="round" letter-spacing="0.5" >S Maple Ave</text>
<text transform="translate(763,420) rotate(-75)" text-anchor="middle" font-size="10.3" font-weight="400" fill="#5a5a5a" stroke="#f3f1ed" stroke-width="2.6" paint-order="stroke" stroke-linejoin="round" letter-spacing="0.5" >San Mateo</text>
<text transform="translate(853,477) rotate(63)" text-anchor="middle" font-size="10.3" font-weight="400" fill="#5a5a5a" stroke="#f3f1ed" stroke-width="2.6" paint-order="stroke" stroke-linejoin="round" letter-spacing="0.5" >S Airport Blvd</text>
<text transform="translate(872,692) rotate(80)" text-anchor="middle" font-size="10.3" font-weight="400" fill="#5a5a5a" stroke="#f3f1ed" stroke-width="2.6" paint-order="stroke" stroke-linejoin="round" letter-spacing="0.5" >N McDonnell Rd</text>
<text transform="translate(927,744) rotate(-15)" text-anchor="middle" font-size="10.3" font-weight="400" fill="#5a5a5a" stroke="#f3f1ed" stroke-width="2.6" paint-order="stroke" stroke-linejoin="round" letter-spacing="0.5" >W Field</text>
<text transform="translate(847,1005) rotate(58)" text-anchor="middle" font-size="10.3" font-weight="400" fill="#5a5a5a" stroke="#f3f1ed" stroke-width="2.6" paint-order="stroke" stroke-linejoin="round" letter-spacing="0.5" >Laurel Ave</text>
<text transform="translate(219,1037) rotate(58)" text-anchor="middle" font-size="10.3" font-weight="400" fill="#5a5a5a" stroke="#f3f1ed" stroke-width="2.6" paint-order="stroke" stroke-linejoin="round" letter-spacing="0.5" >Fire Trail</text>
<text transform="translate(243,540) rotate(33)" text-anchor="middle" font-size="10.3" font-weight="400" fill="#686868" stroke="#f3f1ed" stroke-width="2.6" paint-order="stroke" stroke-linejoin="round" letter-spacing="0.5" >Oakmont Dr</text>
<text transform="translate(184,555) rotate(35)" text-anchor="middle" font-size="10.3" font-weight="400" fill="#686868" stroke="#f3f1ed" stroke-width="2.6" paint-order="stroke" stroke-linejoin="round" letter-spacing="0.5" >Susan Dr</text>
<text transform="translate(357,594) rotate(-38)" text-anchor="middle" font-size="10.3" font-weight="400" fill="#686868" stroke="#f3f1ed" stroke-width="2.6" paint-order="stroke" stroke-linejoin="round" letter-spacing="0.5" >Valleywood Dr</text>
<text transform="translate(299,675) rotate(55)" text-anchor="middle" font-size="10.3" font-weight="400" fill="#686868" stroke="#f3f1ed" stroke-width="2.6" paint-order="stroke" stroke-linejoin="round" letter-spacing="0.5" >Skyline Blvd</text>
<text transform="translate(426,659) rotate(-42)" text-anchor="middle" font-size="10.3" font-weight="400" fill="#686868" stroke="#f3f1ed" stroke-width="2.6" paint-order="stroke" stroke-linejoin="round" letter-spacing="0.5" >Sneath Ln</text>
<text transform="translate(569,569) rotate(-27)" text-anchor="middle" font-size="10.3" font-weight="400" fill="#686868" stroke="#f3f1ed" stroke-width="2.6" paint-order="stroke" stroke-linejoin="round" letter-spacing="0.5" >Sneath Ln</text>
<text transform="translate(233,702) rotate(68)" text-anchor="middle" font-size="10.3" font-weight="400" fill="#686868" stroke="#f3f1ed" stroke-width="2.6" paint-order="stroke" stroke-linejoin="round" letter-spacing="0.5" >Sneath Ln</text>
<text transform="translate(568,637) rotate(72)" text-anchor="middle" font-size="10.3" font-weight="400" fill="#686868" stroke="#f3f1ed" stroke-width="2.6" paint-order="stroke" stroke-linejoin="round" letter-spacing="0.5" >Cherry Ave</text>
<text transform="translate(629,652) rotate(-28)" text-anchor="middle" font-size="10.3" font-weight="400" fill="#686868" stroke="#f3f1ed" stroke-width="2.6" paint-order="stroke" stroke-linejoin="round" letter-spacing="0.5" >Bayhill Dr</text>
<text transform="translate(587,701) rotate(-22)" text-anchor="middle" font-size="10.3" font-weight="400" fill="#686868" stroke="#f3f1ed" stroke-width="2.6" paint-order="stroke" stroke-linejoin="round" letter-spacing="0.5" >San Bruno Ave W</text>
<text transform="translate(644,717) rotate(-25)" text-anchor="middle" font-size="10.3" font-weight="400" fill="#686868" stroke="#f3f1ed" stroke-width="2.6" paint-order="stroke" stroke-linejoin="round" letter-spacing="0.5" >Kains Ave</text>
<text transform="translate(722,620) rotate(65)" text-anchor="middle" font-size="10.3" font-weight="400" fill="#686868" stroke="#f3f1ed" stroke-width="2.6" paint-order="stroke" stroke-linejoin="round" letter-spacing="0.5" >Mills Ave</text>
<text x="774" y="594" text-anchor="middle" font-size="10.3" font-weight="400" fill="#686868" stroke="#f3f1ed" stroke-width="2.6" paint-order="stroke" stroke-linejoin="round" letter-spacing="0.5" >Walnut St</text>
<text transform="translate(766,652) rotate(65)" text-anchor="middle" font-size="10.3" font-weight="400" fill="#686868" stroke="#f3f1ed" stroke-width="2.6" paint-order="stroke" stroke-linejoin="round" letter-spacing="0.5" >2nd Ave</text>
<text transform="translate(794,640) rotate(65)" text-anchor="middle" font-size="10.3" font-weight="400" fill="#686868" stroke="#f3f1ed" stroke-width="2.6" paint-order="stroke" stroke-linejoin="round" letter-spacing="0.5" >5th Ave</text>
<text transform="translate(779,720) rotate(66)" text-anchor="middle" font-size="10.3" font-weight="400" fill="#686868" stroke="#f3f1ed" stroke-width="2.6" paint-order="stroke" stroke-linejoin="round" letter-spacing="0.5" >Huntington Ave</text>
<text transform="translate(722,520) rotate(88)" text-anchor="middle" font-size="10.3" font-weight="400" fill="#686868" stroke="#f3f1ed" stroke-width="2.6" paint-order="stroke" stroke-linejoin="round" letter-spacing="0.5" >Herman St</text>
<text transform="translate(702,749) rotate(65)" text-anchor="middle" font-size="10.3" font-weight="400" fill="#686868" stroke="#f3f1ed" stroke-width="2.6" paint-order="stroke" stroke-linejoin="round" letter-spacing="0.5" >Elm Ave</text>
<text transform="translate(632,792) rotate(65)" text-anchor="middle" font-size="10.3" font-weight="400" fill="#686868" stroke="#f3f1ed" stroke-width="2.6" paint-order="stroke" stroke-linejoin="round" letter-spacing="0.5" >Maple Ave</text>
<text transform="translate(453,787) rotate(4)" text-anchor="middle" font-size="10.3" font-weight="400" fill="#686868" stroke="#f3f1ed" stroke-width="2.6" paint-order="stroke" stroke-linejoin="round" letter-spacing="0.5" >San Bruno Ave W</text>
<text x="692" y="675" text-anchor="middle" font-size="14.5" font-weight="700" fill="#111" stroke="#f3f1ed" stroke-width="3" paint-order="stroke" stroke-linejoin="round" letter-spacing="0.3" >San Bruno</text>
<text x="470" y="573" text-anchor="middle" font-size="9.8" font-weight="700" fill="#4e7458" stroke="#dcecc8" stroke-width="2" paint-order="stroke" stroke-linejoin="round" letter-spacing="0.2" >Golden Gate</text>
<text x="470" y="585" text-anchor="middle" font-size="9.8" font-weight="700" fill="#4e7458" stroke="#dcecc8" stroke-width="2" paint-order="stroke" stroke-linejoin="round" letter-spacing="0.2" >National Cemetery</text>
<text x="135" y="626" text-anchor="middle" font-size="9.8" font-weight="700" fill="#6a6a30" stroke="#e8ecc8" stroke-width="2" paint-order="stroke" stroke-linejoin="round" letter-spacing="0.1" >Skyline College</text>
<text x="671" y="536" text-anchor="middle" font-size="9.8" font-weight="700" fill="#a5685c" stroke="#f6d4c9" stroke-width="2" paint-order="stroke" stroke-linejoin="round" letter-spacing="0.3" >The Shops</text>
<text x="671" y="548" text-anchor="middle" font-size="9.8" font-weight="700" fill="#a5685c" stroke="#f6d4c9" stroke-width="2" paint-order="stroke" stroke-linejoin="round" letter-spacing="0.3" >at Tanforan</text>
<text x="713" y="839" text-anchor="middle" font-size="9.4" font-weight="700" fill="#3c8a3e" stroke="#d3e6bd" stroke-width="2" paint-order="stroke" stroke-linejoin="round" letter-spacing="0" >San Bruno</text>
<text x="713" y="851" text-anchor="middle" font-size="9.4" font-weight="700" fill="#3c8a3e" stroke="#d3e6bd" stroke-width="2" paint-order="stroke" stroke-linejoin="round" letter-spacing="0" >City Park</text>
<text x="615" y="925" text-anchor="middle" font-size="9.4" font-weight="700" fill="#3c8a3e" stroke="#d3e6bd" stroke-width="2" paint-order="stroke" stroke-linejoin="round" letter-spacing="0" >Junipero Serra</text>
<text x="615" y="937" text-anchor="middle" font-size="9.4" font-weight="700" fill="#3c8a3e" stroke="#d3e6bd" stroke-width="2" paint-order="stroke" stroke-linejoin="round" letter-spacing="0" >County Park</text>
<text x="769" y="1020" text-anchor="middle" font-size="9.8" font-weight="700" fill="#6f8468" stroke="#e3ecd6" stroke-width="2" paint-order="stroke" stroke-linejoin="round" letter-spacing="0.2" >Green Hills</text>
<text x="769" y="1032" text-anchor="middle" font-size="9.8" font-weight="700" fill="#6f8468" stroke="#e3ecd6" stroke-width="2" paint-order="stroke" stroke-linejoin="round" letter-spacing="0.2" >Country Club</text>
<text x="737" y="909" text-anchor="middle" font-size="10.3" font-weight="400" fill="#6e78b4" stroke="#f3f1ed" stroke-width="1.5" paint-order="stroke" stroke-linejoin="round" letter-spacing="0.35" >LOMITA HILLS</text>
<text x="901" y="947" text-anchor="middle" font-size="10.5" font-weight="400" fill="#6e78b4" stroke="#f3f1ed" stroke-width="1.5" paint-order="stroke" stroke-linejoin="round" letter-spacing="0.6" >DOWNTOWN</text>
<text x="902" y="964" text-anchor="middle" font-size="10.5" font-weight="400" fill="#6e78b4" stroke="#f3f1ed" stroke-width="1.5" paint-order="stroke" stroke-linejoin="round" letter-spacing="0.4" >MILLBRAE</text>
<text x="913" y="1023" text-anchor="middle" font-size="15.5" font-weight="700" fill="#333" stroke="#f3f1ed" stroke-width="2.5" paint-order="stroke" stroke-linejoin="round" letter-spacing="0.3" >Millbrae</text>
<text transform="translate(42,473) rotate(38)" text-anchor="middle" font-size="11" font-weight="400" fill="#5e9fd6" stroke="#eef3ee" stroke-width="1.5" paint-order="stroke" stroke-linejoin="round" letter-spacing="0.5" font-style="italic">Milagra Creek</text>
<text transform="translate(100,832) rotate(-27)" text-anchor="middle" font-size="11" font-weight="400" fill="#5e9fd6" stroke="#eef3ee" stroke-width="1.5" paint-order="stroke" stroke-linejoin="round" letter-spacing="0.5" font-style="italic">Calara Creek</text>
<text transform="translate(30,871) rotate(-25)" text-anchor="middle" font-size="11" font-weight="400" fill="#5e9fd6" stroke="#eef3ee" stroke-width="1.5" paint-order="stroke" stroke-linejoin="round" letter-spacing="0.5" font-style="italic">Calara Creek</text>
<text x="45" y="720" text-anchor="end" font-size="10.5" font-weight="700" fill="#7d9077" stroke="#e3ecd6" stroke-width="2" paint-order="stroke" stroke-linejoin="round" letter-spacing="0.2" >Sharp Park</text>
<path d="M5 394H933V1053H5Z M194.0 474.0 L313.0 554.0 L321.0 553.0 L332.0 538.7 L334.0 528.5 L351.0 532.6 L357.4 542.0 L353.5 556.0 L369.0 562.6 L447.5 509.6 L496.9 565.2 L604.0 478.0 L666.4 450.0 L687.5 492.5 L747.0 466.0 L748.0 548.0 L815.0 548.0 L818.6 600.0 L820.0 618.6 L823.3 621.4 L841.0 759.0 L824.2 778.7 L823.8 781.5 L819.5 784.3 L881.0 885.3 L868.8 892.0 L876.3 902.5 L862.1 912.1 L812.2 850.5 L805.0 855.1 L815.1 866.4 L818.5 870.2 L819.0 873.0 L816.8 874.4 L813.5 871.9 L811.4 873.6 L808.0 885.3 L809.3 889.5 L771.2 864.6 L666.7 931.8 L661.6 922.2 L639.8 937.6 L640.4 948.5 L585.3 984.7 L583.7 992.7 L575.0 998.0 L556.0 1002.3 L554.0 1015.0 L347.5 746.5 L288.9 812.5 L281.5 807.0 L278.5 800.0 L248.3 778.0 L239.8 763.0 L241.5 755.0 L254.0 749.8 L255.3 742.5 L226.0 697.0 L233.5 676.4 L232.8 663.0 L210.4 673.0 L202.5 670.0 L182.0 640.0 L171.0 641.0 L164.6 637.0 L139.0 645.7 L123.4 645.7 L109.0 642.0 L95.0 670.0 L78.5 670.0 L47.5 618.5 L31.0 609.0 L31.6 577.0 L50.0 563.0 L44.0 554.6 L78.5 505.0 L87.0 518.0 L136.0 499.0 L172.5 483.0Z M799.2 894.5 L809.3 889.5 L836.9 923.9 L834.8 929.5 L795.5 956.0 L773.7 953.6 L772.8 937.6Z" fill="rgba(174,173,171,0.72)" fill-rule="evenodd"/>
<path d="M194.0 474.0 L313.0 554.0 L321.0 553.0 L332.0 538.7 L334.0 528.5 L351.0 532.6 L357.4 542.0 L353.5 556.0 L369.0 562.6 L447.5 509.6 L496.9 565.2 L604.0 478.0 L666.4 450.0 L687.5 492.5 L747.0 466.0 L748.0 548.0 L815.0 548.0 L818.6 600.0 L820.0 618.6 L823.3 621.4 L841.0 759.0 L824.2 778.7 L823.8 781.5 L819.5 784.3 L881.0 885.3 L868.8 892.0 L876.3 902.5 L862.1 912.1 L812.2 850.5 L805.0 855.1 L815.1 866.4 L818.5 870.2 L819.0 873.0 L816.8 874.4 L813.5 871.9 L811.4 873.6 L808.0 885.3 L809.3 889.5 L771.2 864.6 L666.7 931.8 L661.6 922.2 L639.8 937.6 L640.4 948.5 L585.3 984.7 L583.7 992.7 L575.0 998.0 L556.0 1002.3 L554.0 1015.0 L347.5 746.5 L288.9 812.5 L281.5 807.0 L278.5 800.0 L248.3 778.0 L239.8 763.0 L241.5 755.0 L254.0 749.8 L255.3 742.5 L226.0 697.0 L233.5 676.4 L232.8 663.0 L210.4 673.0 L202.5 670.0 L182.0 640.0 L171.0 641.0 L164.6 637.0 L139.0 645.7 L123.4 645.7 L109.0 642.0 L95.0 670.0 L78.5 670.0 L47.5 618.5 L31.0 609.0 L31.6 577.0 L50.0 563.0 L44.0 554.6 L78.5 505.0 L87.0 518.0 L136.0 499.0 L172.5 483.0Z M799.2 894.5 L809.3 889.5 L836.9 923.9 L834.8 929.5 L795.5 956.0 L773.7 953.6 L772.8 937.6Z" fill="none" stroke="#1c1c1c" stroke-width="3.600" stroke-linejoin="miter"/>
<circle cx="99.0" cy="520.7" r="3.100" fill="#e8484d" stroke="#2a0a0a" stroke-width="1"/><circle cx="170.9" cy="511.8" r="3.100" fill="#e8484d" stroke="#2a0a0a" stroke-width="1"/><circle cx="144.0" cy="549.8" r="3.100" fill="#e8484d" stroke="#2a0a0a" stroke-width="1"/><circle cx="178.8" cy="553.0" r="3.100" fill="#e8484d" stroke="#2a0a0a" stroke-width="1"/><circle cx="119.6" cy="572.9" r="3.100" fill="#e8484d" stroke="#2a0a0a" stroke-width="1"/><circle cx="223.0" cy="561.9" r="3.100" fill="#e8484d" stroke="#2a0a0a" stroke-width="1"/><circle cx="257.0" cy="548.9" r="3.100" fill="#e8484d" stroke="#2a0a0a" stroke-width="1"/><circle cx="266.8" cy="560.0" r="3.100" fill="#e8484d" stroke="#2a0a0a" stroke-width="1"/><circle cx="296.0" cy="579.9" r="3.100" fill="#e8484d" stroke="#2a0a0a" stroke-width="1"/><circle cx="274.7" cy="588.8" r="3.100" fill="#e8484d" stroke="#2a0a0a" stroke-width="1"/><circle cx="274.0" cy="616.0" r="3.100" fill="#e8484d" stroke="#2a0a0a" stroke-width="1"/><circle cx="223.8" cy="611.9" r="3.100" fill="#e8484d" stroke="#2a0a0a" stroke-width="1"/><circle cx="215.8" cy="636.9" r="3.100" fill="#e8484d" stroke="#2a0a0a" stroke-width="1"/><circle cx="257.0" cy="631.2" r="3.100" fill="#e8484d" stroke="#2a0a0a" stroke-width="1"/><circle cx="268.0" cy="648.9" r="3.100" fill="#e8484d" stroke="#2a0a0a" stroke-width="1"/><circle cx="304.8" cy="632.0" r="3.100" fill="#e8484d" stroke="#2a0a0a" stroke-width="1"/><circle cx="321.9" cy="618.8" r="3.100" fill="#e8484d" stroke="#2a0a0a" stroke-width="1"/><circle cx="337.0" cy="591.0" r="3.100" fill="#e8484d" stroke="#2a0a0a" stroke-width="1"/><circle cx="346.0" cy="573.6" r="3.100" fill="#e8484d" stroke="#2a0a0a" stroke-width="1"/><circle cx="398.0" cy="573.6" r="3.100" fill="#e8484d" stroke="#2a0a0a" stroke-width="1"/><circle cx="416.8" cy="565.0" r="3.100" fill="#e8484d" stroke="#2a0a0a" stroke-width="1"/><circle cx="435.8" cy="590.0" r="3.100" fill="#e8484d" stroke="#2a0a0a" stroke-width="1"/><circle cx="411.8" cy="602.0" r="3.100" fill="#e8484d" stroke="#2a0a0a" stroke-width="1"/><circle cx="417.8" cy="632.0" r="3.100" fill="#e8484d" stroke="#2a0a0a" stroke-width="1"/><circle cx="388.3" cy="634.6" r="3.100" fill="#e8484d" stroke="#2a0a0a" stroke-width="1"/><circle cx="394.0" cy="635.0" r="3.100" fill="#e8484d" stroke="#2a0a0a" stroke-width="1"/><circle cx="368.0" cy="642.0" r="3.100" fill="#e8484d" stroke="#2a0a0a" stroke-width="1"/><circle cx="369.0" cy="647.0" r="3.100" fill="#e8484d" stroke="#2a0a0a" stroke-width="1"/><circle cx="358.6" cy="645.7" r="3.100" fill="#e8484d" stroke="#2a0a0a" stroke-width="1"/><circle cx="346.0" cy="640.0" r="3.100" fill="#e8484d" stroke="#2a0a0a" stroke-width="1"/><circle cx="327.0" cy="641.0" r="3.100" fill="#e8484d" stroke="#2a0a0a" stroke-width="1"/><circle cx="312.7" cy="645.7" r="3.100" fill="#e8484d" stroke="#2a0a0a" stroke-width="1"/><circle cx="406.0" cy="651.0" r="3.100" fill="#e8484d" stroke="#2a0a0a" stroke-width="1"/><circle cx="411.8" cy="650.0" r="3.100" fill="#e8484d" stroke="#2a0a0a" stroke-width="1"/><circle cx="356.0" cy="669.0" r="3.100" fill="#e8484d" stroke="#2a0a0a" stroke-width="1"/><circle cx="385.8" cy="669.8" r="3.100" fill="#e8484d" stroke="#2a0a0a" stroke-width="1"/><circle cx="377.6" cy="677.0" r="3.100" fill="#e8484d" stroke="#2a0a0a" stroke-width="1"/><circle cx="403.0" cy="696.0" r="3.100" fill="#e8484d" stroke="#2a0a0a" stroke-width="1"/><circle cx="613.0" cy="579.0" r="3.100" fill="#e8484d" stroke="#2a0a0a" stroke-width="1"/><circle cx="697.7" cy="585.0" r="3.100" fill="#e8484d" stroke="#2a0a0a" stroke-width="1"/><circle cx="678.0" cy="597.8" r="3.100" fill="#e8484d" stroke="#2a0a0a" stroke-width="1"/><circle cx="697.7" cy="612.0" r="3.100" fill="#e8484d" stroke="#2a0a0a" stroke-width="1"/><circle cx="689.3" cy="623.3" r="3.100" fill="#e8484d" stroke="#2a0a0a" stroke-width="1"/><circle cx="690.5" cy="624.5" r="3.100" fill="#e8484d" stroke="#2a0a0a" stroke-width="1"/><circle cx="673.7" cy="676.0" r="3.100" fill="#e8484d" stroke="#2a0a0a" stroke-width="1"/><circle cx="688.0" cy="687.0" r="3.100" fill="#e8484d" stroke="#2a0a0a" stroke-width="1"/><circle cx="683.8" cy="693.7" r="3.100" fill="#e8484d" stroke="#2a0a0a" stroke-width="1"/><circle cx="624.7" cy="700.0" r="3.100" fill="#e8484d" stroke="#2a0a0a" stroke-width="1"/><circle cx="640.8" cy="699.0" r="3.100" fill="#e8484d" stroke="#2a0a0a" stroke-width="1"/><circle cx="665.0" cy="710.0" r="3.100" fill="#e8484d" stroke="#2a0a0a" stroke-width="1"/><circle cx="679.4" cy="717.7" r="3.100" fill="#e8484d" stroke="#2a0a0a" stroke-width="1"/><circle cx="728.8" cy="638.0" r="3.100" fill="#e8484d" stroke="#2a0a0a" stroke-width="1"/><circle cx="740.0" cy="638.0" r="3.100" fill="#e8484d" stroke="#2a0a0a" stroke-width="1"/><circle cx="719.8" cy="643.4" r="3.100" fill="#e8484d" stroke="#2a0a0a" stroke-width="1"/><circle cx="729.0" cy="653.0" r="3.100" fill="#e8484d" stroke="#2a0a0a" stroke-width="1"/><circle cx="718.0" cy="665.0" r="3.100" fill="#e8484d" stroke="#2a0a0a" stroke-width="1"/><circle cx="634.8" cy="723.3" r="3.100" fill="#e8484d" stroke="#2a0a0a" stroke-width="1"/><circle cx="729.8" cy="704.0" r="3.100" fill="#e8484d" stroke="#2a0a0a" stroke-width="1"/><circle cx="733.0" cy="711.5" r="3.100" fill="#e8484d" stroke="#2a0a0a" stroke-width="1"/><circle cx="756.0" cy="607.0" r="3.100" fill="#e8484d" stroke="#2a0a0a" stroke-width="1"/><circle cx="810.0" cy="580.0" r="3.100" fill="#e8484d" stroke="#2a0a0a" stroke-width="1"/><circle cx="810.0" cy="587.0" r="3.100" fill="#e8484d" stroke="#2a0a0a" stroke-width="1"/><circle cx="806.0" cy="608.3" r="3.100" fill="#e8484d" stroke="#2a0a0a" stroke-width="1"/><circle cx="796.9" cy="625.0" r="3.100" fill="#e8484d" stroke="#2a0a0a" stroke-width="1"/><circle cx="812.8" cy="633.0" r="3.100" fill="#e8484d" stroke="#2a0a0a" stroke-width="1"/><circle cx="770.7" cy="634.0" r="3.100" fill="#e8484d" stroke="#2a0a0a" stroke-width="1"/><circle cx="767.5" cy="636.4" r="3.100" fill="#e8484d" stroke="#2a0a0a" stroke-width="1"/><circle cx="790.8" cy="636.4" r="3.100" fill="#e8484d" stroke="#2a0a0a" stroke-width="1"/><circle cx="781.8" cy="642.0" r="3.100" fill="#e8484d" stroke="#2a0a0a" stroke-width="1"/><circle cx="780.9" cy="664.0" r="3.100" fill="#e8484d" stroke="#2a0a0a" stroke-width="1"/><circle cx="777.0" cy="671.5" r="3.100" fill="#e8484d" stroke="#2a0a0a" stroke-width="1"/><circle cx="786.0" cy="675.0" r="3.100" fill="#e8484d" stroke="#2a0a0a" stroke-width="1"/><circle cx="795.0" cy="687.0" r="3.100" fill="#e8484d" stroke="#2a0a0a" stroke-width="1"/><circle cx="807.8" cy="690.0" r="3.100" fill="#e8484d" stroke="#2a0a0a" stroke-width="1"/><circle cx="817.0" cy="683.4" r="3.100" fill="#e8484d" stroke="#2a0a0a" stroke-width="1"/><circle cx="796.0" cy="697.4" r="3.100" fill="#e8484d" stroke="#2a0a0a" stroke-width="1"/><circle cx="811.9" cy="697.4" r="3.100" fill="#e8484d" stroke="#2a0a0a" stroke-width="1"/><circle cx="767.8" cy="714.0" r="3.100" fill="#e8484d" stroke="#2a0a0a" stroke-width="1"/><circle cx="770.0" cy="719.5" r="3.100" fill="#e8484d" stroke="#2a0a0a" stroke-width="1"/><circle cx="787.9" cy="733.0" r="3.100" fill="#e8484d" stroke="#2a0a0a" stroke-width="1"/><circle cx="787.0" cy="739.0" r="3.100" fill="#e8484d" stroke="#2a0a0a" stroke-width="1"/><circle cx="796.0" cy="769.0" r="3.100" fill="#e8484d" stroke="#2a0a0a" stroke-width="1"/><circle cx="802.0" cy="780.0" r="3.100" fill="#e8484d" stroke="#2a0a0a" stroke-width="1"/><circle cx="791.8" cy="791.0" r="3.100" fill="#e8484d" stroke="#2a0a0a" stroke-width="1"/><circle cx="772.0" cy="788.0" r="3.100" fill="#e8484d" stroke="#2a0a0a" stroke-width="1"/><circle cx="760.8" cy="789.0" r="3.100" fill="#e8484d" stroke="#2a0a0a" stroke-width="1"/><circle cx="813.0" cy="799.0" r="3.100" fill="#e8484d" stroke="#2a0a0a" stroke-width="1"/><circle cx="742.0" cy="796.0" r="3.100" fill="#e8484d" stroke="#2a0a0a" stroke-width="1"/><circle cx="575.0" cy="744.0" r="3.100" fill="#e8484d" stroke="#2a0a0a" stroke-width="1"/><circle cx="596.8" cy="744.0" r="3.100" fill="#e8484d" stroke="#2a0a0a" stroke-width="1"/><circle cx="594.6" cy="749.0" r="3.100" fill="#e8484d" stroke="#2a0a0a" stroke-width="1"/><circle cx="610.0" cy="747.0" r="3.100" fill="#e8484d" stroke="#2a0a0a" stroke-width="1"/><circle cx="649.9" cy="737.0" r="3.100" fill="#e8484d" stroke="#2a0a0a" stroke-width="1"/><circle cx="663.0" cy="739.0" r="3.100" fill="#e8484d" stroke="#2a0a0a" stroke-width="1"/><circle cx="672.0" cy="741.7" r="3.100" fill="#e8484d" stroke="#2a0a0a" stroke-width="1"/><circle cx="668.0" cy="755.0" r="3.100" fill="#e8484d" stroke="#2a0a0a" stroke-width="1"/><circle cx="668.0" cy="767.0" r="3.100" fill="#e8484d" stroke="#2a0a0a" stroke-width="1"/><circle cx="695.0" cy="761.8" r="3.100" fill="#e8484d" stroke="#2a0a0a" stroke-width="1"/><circle cx="703.0" cy="754.0" r="3.100" fill="#e8484d" stroke="#2a0a0a" stroke-width="1"/><circle cx="706.0" cy="745.0" r="3.100" fill="#e8484d" stroke="#2a0a0a" stroke-width="1"/><circle cx="710.0" cy="743.0" r="3.100" fill="#e8484d" stroke="#2a0a0a" stroke-width="1"/><circle cx="718.9" cy="738.0" r="3.100" fill="#e8484d" stroke="#2a0a0a" stroke-width="1"/><circle cx="724.0" cy="753.0" r="3.100" fill="#e8484d" stroke="#2a0a0a" stroke-width="1"/><circle cx="707.0" cy="776.0" r="3.100" fill="#e8484d" stroke="#2a0a0a" stroke-width="1"/><circle cx="647.0" cy="779.0" r="3.100" fill="#e8484d" stroke="#2a0a0a" stroke-width="1"/><circle cx="637.0" cy="785.0" r="3.100" fill="#e8484d" stroke="#2a0a0a" stroke-width="1"/><circle cx="652.0" cy="790.0" r="3.100" fill="#e8484d" stroke="#2a0a0a" stroke-width="1"/><circle cx="644.8" cy="796.7" r="3.100" fill="#e8484d" stroke="#2a0a0a" stroke-width="1"/><circle cx="722.5" cy="483.0" r="3.100" fill="#e8484d" stroke="#2a0a0a" stroke-width="1"/><circle cx="722.5" cy="490.3" r="3.100" fill="#e8484d" stroke="#2a0a0a" stroke-width="1"/><circle cx="722.5" cy="493.8" r="3.100" fill="#e8484d" stroke="#2a0a0a" stroke-width="1"/><circle cx="732.7" cy="526.7" r="3.100" fill="#e8484d" stroke="#2a0a0a" stroke-width="1"/><circle cx="723.8" cy="532.0" r="3.100" fill="#e8484d" stroke="#2a0a0a" stroke-width="1"/><circle cx="511.0" cy="754.0" r="3.100" fill="#e8484d" stroke="#2a0a0a" stroke-width="1"/><circle cx="471.0" cy="761.0" r="3.100" fill="#e8484d" stroke="#2a0a0a" stroke-width="1"/><circle cx="663.8" cy="800.8" r="3.100" fill="#e8484d" stroke="#2a0a0a" stroke-width="1"/><circle cx="659.7" cy="804.3" r="3.100" fill="#e8484d" stroke="#2a0a0a" stroke-width="1"/><circle cx="679.0" cy="815.0" r="3.100" fill="#e8484d" stroke="#2a0a0a" stroke-width="1"/><circle cx="587.0" cy="803.0" r="3.100" fill="#e8484d" stroke="#2a0a0a" stroke-width="1"/><circle cx="716.7" cy="802.0" r="3.100" fill="#e8484d" stroke="#2a0a0a" stroke-width="1"/><circle cx="734.0" cy="802.0" r="3.100" fill="#e8484d" stroke="#2a0a0a" stroke-width="1"/><circle cx="799.0" cy="803.4" r="3.100" fill="#e8484d" stroke="#2a0a0a" stroke-width="1"/><circle cx="712.5" cy="813.3" r="3.100" fill="#e8484d" stroke="#2a0a0a" stroke-width="1"/><circle cx="728.9" cy="811.0" r="3.100" fill="#e8484d" stroke="#2a0a0a" stroke-width="1"/><circle cx="761.9" cy="822.3" r="3.100" fill="#e8484d" stroke="#2a0a0a" stroke-width="1"/><circle cx="837.8" cy="822.3" r="3.100" fill="#e8484d" stroke="#2a0a0a" stroke-width="1"/><circle cx="787.8" cy="845.0" r="3.100" fill="#e8484d" stroke="#2a0a0a" stroke-width="1"/><circle cx="822.8" cy="845.0" r="3.100" fill="#e8484d" stroke="#2a0a0a" stroke-width="1"/><circle cx="765.4" cy="849.0" r="3.100" fill="#e8484d" stroke="#2a0a0a" stroke-width="1"/><circle cx="769.9" cy="855.0" r="3.100" fill="#e8484d" stroke="#2a0a0a" stroke-width="1"/><circle cx="736.9" cy="857.0" r="3.100" fill="#e8484d" stroke="#2a0a0a" stroke-width="1"/><circle cx="742.7" cy="867.0" r="3.100" fill="#e8484d" stroke="#2a0a0a" stroke-width="1"/><circle cx="748.7" cy="863.0" r="3.100" fill="#e8484d" stroke="#2a0a0a" stroke-width="1"/><circle cx="707.7" cy="869.0" r="3.100" fill="#e8484d" stroke="#2a0a0a" stroke-width="1"/><circle cx="629.9" cy="846.3" r="3.100" fill="#e8484d" stroke="#2a0a0a" stroke-width="1"/><circle cx="525.7" cy="840.0" r="3.100" fill="#e8484d" stroke="#2a0a0a" stroke-width="1"/><circle cx="669.6" cy="905.9" r="3.100" fill="#e8484d" stroke="#2a0a0a" stroke-width="1"/><circle cx="840.7" cy="867.0" r="3.100" fill="#e8484d" stroke="#2a0a0a" stroke-width="1"/><circle cx="865.0" cy="892.0" r="3.100" fill="#e8484d" stroke="#2a0a0a" stroke-width="1"/><circle cx="863.4" cy="899.0" r="3.100" fill="#e8484d" stroke="#2a0a0a" stroke-width="1"/><circle cx="566.0" cy="976.0" r="3.100" fill="#e8484d" stroke="#2a0a0a" stroke-width="1"/><circle cx="296.0" cy="735.0" r="3.100" fill="#e8484d" stroke="#2a0a0a" stroke-width="1"/><circle cx="267.8" cy="764.0" r="3.100" fill="#e8484d" stroke="#2a0a0a" stroke-width="1"/><circle cx="310.5" cy="763.0" r="3.100" fill="#e8484d" stroke="#2a0a0a" stroke-width="1"/><circle cx="323.0" cy="755.0" r="3.100" fill="#e8484d" stroke="#2a0a0a" stroke-width="1"/><circle cx="455.0" cy="781.0" r="3.100" fill="#e8484d" stroke="#2a0a0a" stroke-width="1"/><circle cx="439.6" cy="818.0" r="3.100" fill="#e8484d" stroke="#2a0a0a" stroke-width="1"/><circle cx="436.7" cy="821.3" r="3.100" fill="#e8484d" stroke="#2a0a0a" stroke-width="1"/><circle cx="444.7" cy="862.0" r="3.100" fill="#e8484d" stroke="#2a0a0a" stroke-width="1"/><circle cx="658.0" cy="524.7" r="3.100" fill="#1f8fd0" stroke="#2a0a0a" stroke-width="1"/><circle cx="667.0" cy="597.0" r="3.100" fill="#1f8fd0" stroke="#2a0a0a" stroke-width="1"/><circle cx="668.0" cy="652.0" r="3.100" fill="#1f8fd0" stroke="#2a0a0a" stroke-width="1"/><circle cx="732.7" cy="621.0" r="3.100" fill="#1f8fd0" stroke="#2a0a0a" stroke-width="1"/><circle cx="741.0" cy="629.0" r="3.100" fill="#1f8fd0" stroke="#2a0a0a" stroke-width="1"/><circle cx="702.0" cy="666.0" r="3.100" fill="#1f8fd0" stroke="#2a0a0a" stroke-width="1"/><circle cx="405.0" cy="775.0" r="3.100" fill="#1f8fd0" stroke="#2a0a0a" stroke-width="1"/><circle cx="455.8" cy="651.0" r="3.100" fill="#a6c626" stroke="#2a0a0a" stroke-width="1"/><circle cx="695.8" cy="580.3" r="3.100" fill="#a6c626" stroke="#2a0a0a" stroke-width="1"/><circle cx="709.0" cy="813.3" r="3.100" fill="#a6c626" stroke="#2a0a0a" stroke-width="1"/><circle cx="795.8" cy="832.2" r="3.100" fill="#a6c626" stroke="#2a0a0a" stroke-width="1"/><circle cx="550.7" cy="903.3" r="3.100" fill="#a6c626" stroke="#2a0a0a" stroke-width="1"/><circle cx="639.8" cy="558.0" r="3.100" fill="#9950a8" stroke="#2a0a0a" stroke-width="1"/><circle cx="738.0" cy="721.0" r="3.100" fill="#e09a1c" stroke="#2a0a0a" stroke-width="1"/>
</svg>
<div class="mbtn" style="left:881px;top:15px;border-radius:4px"><svg width="32" height="32" viewBox="0 0 32 32"><g fill="none" stroke="#4a4a4a" stroke-width="1"><rect x="9.500" y="9.500" width="2" height="2"/><circle cx="10.500" cy="14.500" r="1.100"/><rect x="9.500" y="17.500" width="2" height="2"/><path d="M9.200 23.800l1.300-2.600 1.300 2.600z" fill="#4a4a4a" stroke="none"/><path d="M14.200 10.500h8.800M14.200 14.500h8.800M14.200 18.500h8.800M14.200 22.500h8.800"/></g></svg></div>
<div class="mbtn" style="left:881px;top:540px"><svg width="32" height="32" viewBox="0 0 32 32"><g fill="none" stroke="#555" stroke-width="1.100"><circle cx="16" cy="16" r="5"/><path d="M16 8.500v3M16 20.500v3M8.500 16h3M20.500 16h3"/></g></svg></div>
<div class="mbtn" style="left:881px;top:580px;height:64px"><svg width="32" height="64" viewBox="0 0 32 64"><g fill="none" stroke="#555" stroke-width="1.100"><path d="M11.500 16h9M16 11.500v9M11 48h10"/><path d="M0 32.500h32" stroke="#ddd"/></g></svg></div>
<div id="scale"><div class="s1">1,000 m</div><div class="s2">2,000 ft</div><i></i></div></div>
<div id="attr"><span style="position:absolute;left:5px;letter-spacing:.04px">California State Parks, Esri, TomTom, Garmin, SafeGraph, GeoTechnologies, Inc, METI/NASA, USGS, Bureau of Land Management, EPA, NPS, US Censu…</span><span style="position:absolute;right:5px;letter-spacing:.12px">Powered by Esri</span></div>
</div>

<div class="panel" id="chp">
<h2 style="left:8px;top:7px;font-size:17.6px;line-height:22px;letter-spacing:-.02px">Housing Units in the Pipeline vs 3,165 Unit RHNA Obligation by Affordability</h2>
<div class="t" style="top:30px">This chart compares the number of housing units already permitted or currently in the development pipeline at each affordability level versus</div>
<div class="t" style="top:47px">the number of units San Bruno needs to permit to meets its 2023-2031 RHNA obligation.</div>
<svg style="position:absolute;left:0;top:0" width="917" height="584" viewBox="0 0 917 584" font-family="Liberation Sans, sans-serif" font-size="14" fill="#1a1a1a">
<line x1="76" y1="478.0" x2="901.5" y2="478.0" stroke="#cacaca" stroke-width="1"/>
<text x="72" y="479.2" text-anchor="end" letter-spacing=".2">0</text>
<line x1="76" y1="429.94" x2="901.5" y2="429.94" stroke="#cacaca" stroke-width="1"/>
<text x="72" y="431.14" text-anchor="end" letter-spacing=".2">200</text>
<line x1="76" y1="381.88" x2="901.5" y2="381.88" stroke="#cacaca" stroke-width="1"/>
<text x="72" y="383.07" text-anchor="end" letter-spacing=".2">400</text>
<line x1="76" y1="333.81" x2="901.5" y2="333.81" stroke="#cacaca" stroke-width="1"/>
<text x="72" y="335.01" text-anchor="end" letter-spacing=".2">600</text>
<line x1="76" y1="285.75" x2="901.5" y2="285.75" stroke="#cacaca" stroke-width="1"/>
<text x="72" y="286.95" text-anchor="end" letter-spacing=".2">800</text>
<line x1="76" y1="237.69" x2="901.5" y2="237.69" stroke="#cacaca" stroke-width="1"/>
<text x="72" y="238.89" text-anchor="end" letter-spacing=".2">1k</text>
<line x1="76" y1="189.62" x2="901.5" y2="189.62" stroke="#cacaca" stroke-width="1"/>
<text x="72" y="190.82" text-anchor="end" letter-spacing=".2">1.2k</text>
<line x1="76" y1="141.56" x2="901.5" y2="141.56" stroke="#cacaca" stroke-width="1"/>
<text x="72" y="142.76" text-anchor="end" letter-spacing=".2">1.4k</text>
<line x1="76" y1="93.5" x2="901.5" y2="93.5" stroke="#cacaca" stroke-width="1"/>
<text x="72" y="94.7" text-anchor="end" letter-spacing=".2">1.6k</text>
<line x1="81.5" y1="93.5" x2="81.5" y2="478.0" stroke="#cacaca" stroke-width="1"/>
<line x1="286.5" y1="93.5" x2="286.5" y2="478.0" stroke="#cacaca" stroke-width="1"/>
<line x1="491.5" y1="93.5" x2="491.5" y2="478.0" stroke="#cacaca" stroke-width="1"/>
<line x1="696.5" y1="93.5" x2="696.5" y2="478.0" stroke="#cacaca" stroke-width="1"/>
<line x1="901.5" y1="93.5" x2="901.5" y2="478.0" stroke="#cacaca" stroke-width="1"/>
<rect x="101.5" y="453.01" width="82.5" height="24.99" fill="#2da035"/>
<rect x="184.0" y="308.82" width="82.5" height="169.18" fill="#0079c1"/>
<text x="142.75" y="444.51" text-anchor="middle" letter-spacing=".2">104</text>
<text x="225.25" y="300.32" text-anchor="middle" letter-spacing=".2">704</text>
<text x="184.0" y="491" text-anchor="middle" letter-spacing=".25">Very Low</text>
<rect x="306.5" y="350.63" width="82.5" height="127.37" fill="#2da035"/>
<rect x="389.0" y="380.67" width="82.5" height="97.33" fill="#0079c1"/>
<text x="347.75" y="342.13" text-anchor="middle" letter-spacing=".2">530</text>
<text x="430.25" y="372.17" text-anchor="middle" letter-spacing=".2">405</text>
<text x="389.0" y="491" text-anchor="middle" letter-spacing=".25">Low</text>
<rect x="511.5" y="448.44" width="82.5" height="29.56" fill="#2da035"/>
<rect x="594.0" y="340.3" width="82.5" height="137.7" fill="#0079c1"/>
<text x="552.75" y="439.94" text-anchor="middle" letter-spacing=".2">123</text>
<text x="635.25" y="331.8" text-anchor="middle" letter-spacing=".2">573</text>
<text x="594.0" y="491" text-anchor="middle" letter-spacing=".25">Moderate</text>
<rect x="716.5" y="224.23" width="82.5" height="253.77" fill="#2da035"/>
<rect x="799.0" y="122.1" width="82.5" height="355.9" fill="#0079c1"/>
<text x="757.75" y="215.73" text-anchor="middle" letter-spacing=".2">1.1k</text>
<text x="840.25" y="113.6" text-anchor="middle" letter-spacing=".2">1.5k</text>
<text x="799.0" y="491" text-anchor="middle" letter-spacing=".25">Above Moderate</text>
<text x="491" y="527" text-anchor="middle" font-weight="700" font-size="15.600">Income Category</text>
<text transform="translate(27,286) rotate(-90)" text-anchor="middle" font-weight="700" font-size="15.200">Housing Units</text>
<rect x="249" y="549.5" width="15" height="15" rx="3" fill="#2da035"/>
<text x="269" y="563" letter-spacing=".12">Total Units in the Pipeline</text>
<rect x="455" y="549.5" width="15" height="15" rx="3" fill="#0079c1"/>
<text x="475" y="563" letter-spacing=".25">3,165 Unit RHNA Obligation</text>
</svg></div>

<div class="panel" id="tbp">
<h2 style="left:8px;top:7px;font-size:17.5px;line-height:22px;letter-spacing:-.05px">Large Housing Developments in San Bruno (10+ Units)</h2>
<div id="tb">
<div class="tr th"><div>Address</div><div>Project Name</div><div>Type</div><div>Total Units</div><div>Status</div></div>
<div class="tr"><div>1178 El Camino Real</div><div>Tanforan Building 1</div><div>5+ Units</div><div>604</div><div>Proposed</div></div>
<div class="tr"><div>840 San Bruno Ave</div><div>The View</div><div>5+ Units</div><div>341</div><div>Permitted</div></div>
<div class="tr"><div>300 Piedmont Ave</div><div>Crestmoor</div><div>Detached Single-Famil…</div><div>155</div><div>Entitled</div></div>
<div class="tr"><div>732 El Camino Real</div><div>El Camino Real</div><div>5+ Units</div><div>134</div><div>Complete</div></div>
<div class="tr"><div>2101 Sneath Ln</div><div>The Range</div><div>Detached Single-Famil…</div><div>130</div><div>Proposed</div></div>
<div class="tr"><div>850 Glenview Dr</div><div>Highland Ridge</div><div>5+ Units</div><div>58</div><div>Permitted</div></div>
<div class="tr"><div>170 San Bruno Ave W</div><div></div><div>5+ Units</div><div>57</div><div>Proposed</div></div>
<div class="tr"><div>111 San Bruno Ave W</div><div></div><div>5+ Units</div><div>46</div><div>Entitled</div></div>
<div class="tr"><div>2000 Crystal Springs</div><div></div><div>Accessory Dwelling Unit</div><div>38</div><div>Proposed</div></div>
<div class="tr"><div></div><div></div><div></div><div></div><div></div></div>
</div><div id="sb"></div></div>

</body></html>
